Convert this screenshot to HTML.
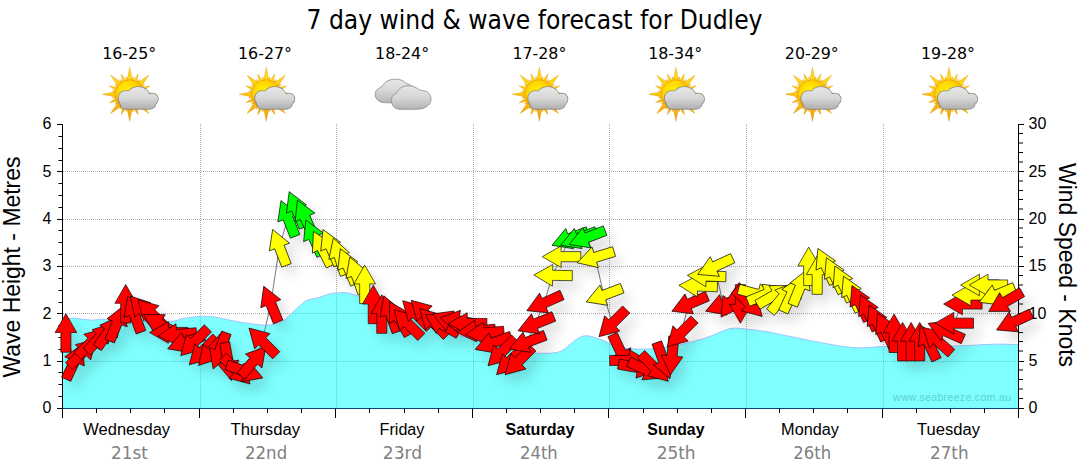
<!DOCTYPE html><html><head><meta charset="utf-8"><style>html,body{margin:0;padding:0;background:#fff;width:1080px;height:475px;overflow:hidden}svg{display:block}</style></head><body>
<svg width="1080" height="475" viewBox="0 0 1080 475">
<defs>
<filter id="sh" x="-50%" y="-50%" width="200%" height="200%"><feGaussianBlur stdDeviation="6"/></filter>
<radialGradient id="sun" cx="0.4" cy="0.38" r="0.68"><stop offset="0" stop-color="#fff200"/><stop offset="0.55" stop-color="#ffd200"/><stop offset="0.85" stop-color="#f9b400"/><stop offset="1" stop-color="#ec9400"/></radialGradient>
<linearGradient id="ray" gradientUnits="userSpaceOnUse" x1="0" y1="-27" x2="0" y2="27"><stop offset="0" stop-color="#ffe41a"/><stop offset="0.5" stop-color="#fcc80a"/><stop offset="1" stop-color="#f0a010"/></linearGradient>
<linearGradient id="cld" x1="0" y1="0" x2="0" y2="1"><stop offset="0" stop-color="#e6e6e6"/><stop offset="0.5" stop-color="#d6d6d6"/><stop offset="1" stop-color="#b4b4b4"/></linearGradient>
<linearGradient id="cld1" gradientUnits="userSpaceOnUse" x1="0" y1="-7.5" x2="0" y2="14.5"><stop offset="0" stop-color="#e8e8e8"/><stop offset="0.5" stop-color="#d8d8d8"/><stop offset="1" stop-color="#b0b0b0"/></linearGradient>
</defs>
<text x="534.5" y="29" text-anchor="middle" font-family="DejaVu Sans, Verdana, sans-serif" font-stretch="condensed" font-size="26" textLength="456" lengthAdjust="spacingAndGlyphs" fill="#000">7 day wind &amp; wave forecast for Dudley</text>
<text x="129.2" y="58.7" text-anchor="middle" font-family="DejaVu Sans, Verdana, sans-serif" font-stretch="condensed" font-size="15" textLength="54" lengthAdjust="spacingAndGlyphs">16-25°</text>
<text x="265" y="58.7" text-anchor="middle" font-family="DejaVu Sans, Verdana, sans-serif" font-stretch="condensed" font-size="15" textLength="54" lengthAdjust="spacingAndGlyphs">16-27°</text>
<text x="402.1" y="58.7" text-anchor="middle" font-family="DejaVu Sans, Verdana, sans-serif" font-stretch="condensed" font-size="15" textLength="54" lengthAdjust="spacingAndGlyphs">18-24°</text>
<text x="539.4" y="58.7" text-anchor="middle" font-family="DejaVu Sans, Verdana, sans-serif" font-stretch="condensed" font-size="15" textLength="54" lengthAdjust="spacingAndGlyphs">17-28°</text>
<text x="675.2" y="58.7" text-anchor="middle" font-family="DejaVu Sans, Verdana, sans-serif" font-stretch="condensed" font-size="15" textLength="54" lengthAdjust="spacingAndGlyphs">18-34°</text>
<text x="811.8" y="58.7" text-anchor="middle" font-family="DejaVu Sans, Verdana, sans-serif" font-stretch="condensed" font-size="15" textLength="54" lengthAdjust="spacingAndGlyphs">20-29°</text>
<text x="948" y="58.7" text-anchor="middle" font-family="DejaVu Sans, Verdana, sans-serif" font-stretch="condensed" font-size="15" textLength="54" lengthAdjust="spacingAndGlyphs">19-28°</text>
<g transform="translate(129.7,94.3)"><path d="M0.00,-27.00L2.90,-12.50L-2.90,-12.50Z" fill="url(#ray)" stroke="#e39200" stroke-width="0.5" stroke-opacity="0.8"/><path d="M3.47,-17.46L3.91,-11.97L0.97,-12.55Z" fill="url(#ray)" stroke="#e39200" stroke-width="0.5" stroke-opacity="0.8"/><path d="M8.42,-20.33L6.72,-10.74L2.84,-12.35Z" fill="url(#ray)" stroke="#e39200" stroke-width="0.5" stroke-opacity="0.8"/><path d="M9.89,-14.80L8.19,-9.56L5.70,-11.23Z" fill="url(#ray)" stroke="#e39200" stroke-width="0.5" stroke-opacity="0.8"/><path d="M19.09,-19.09L10.89,-6.79L6.79,-10.89Z" fill="url(#ray)" stroke="#e39200" stroke-width="0.5" stroke-opacity="0.8"/><path d="M14.80,-9.89L11.23,-5.70L9.56,-8.19Z" fill="url(#ray)" stroke="#e39200" stroke-width="0.5" stroke-opacity="0.8"/><path d="M20.33,-8.42L12.35,-2.84L10.74,-6.72Z" fill="url(#ray)" stroke="#e39200" stroke-width="0.5" stroke-opacity="0.8"/><path d="M17.46,-3.47L12.55,-0.97L11.97,-3.91Z" fill="url(#ray)" stroke="#e39200" stroke-width="0.5" stroke-opacity="0.8"/><path d="M27.00,0.00L12.50,2.90L12.50,-2.90Z" fill="url(#ray)" stroke="#e39200" stroke-width="0.5" stroke-opacity="0.8"/><path d="M17.46,3.47L11.97,3.91L12.55,0.97Z" fill="url(#ray)" stroke="#e39200" stroke-width="0.5" stroke-opacity="0.8"/><path d="M20.33,8.42L10.74,6.72L12.35,2.84Z" fill="url(#ray)" stroke="#e39200" stroke-width="0.5" stroke-opacity="0.8"/><path d="M14.80,9.89L9.56,8.19L11.23,5.70Z" fill="url(#ray)" stroke="#e39200" stroke-width="0.5" stroke-opacity="0.8"/><path d="M19.09,19.09L6.79,10.89L10.89,6.79Z" fill="url(#ray)" stroke="#e39200" stroke-width="0.5" stroke-opacity="0.8"/><path d="M9.89,14.80L5.70,11.23L8.19,9.56Z" fill="url(#ray)" stroke="#e39200" stroke-width="0.5" stroke-opacity="0.8"/><path d="M8.42,20.33L2.84,12.35L6.72,10.74Z" fill="url(#ray)" stroke="#e39200" stroke-width="0.5" stroke-opacity="0.8"/><path d="M3.47,17.46L0.97,12.55L3.91,11.97Z" fill="url(#ray)" stroke="#e39200" stroke-width="0.5" stroke-opacity="0.8"/><path d="M0.00,27.00L-2.90,12.50L2.90,12.50Z" fill="url(#ray)" stroke="#e39200" stroke-width="0.5" stroke-opacity="0.8"/><path d="M-3.47,17.46L-3.91,11.97L-0.97,12.55Z" fill="url(#ray)" stroke="#e39200" stroke-width="0.5" stroke-opacity="0.8"/><path d="M-8.42,20.33L-6.72,10.74L-2.84,12.35Z" fill="url(#ray)" stroke="#e39200" stroke-width="0.5" stroke-opacity="0.8"/><path d="M-9.89,14.80L-8.19,9.56L-5.70,11.23Z" fill="url(#ray)" stroke="#e39200" stroke-width="0.5" stroke-opacity="0.8"/><path d="M-19.09,19.09L-10.89,6.79L-6.79,10.89Z" fill="url(#ray)" stroke="#e39200" stroke-width="0.5" stroke-opacity="0.8"/><path d="M-14.80,9.89L-11.23,5.70L-9.56,8.19Z" fill="url(#ray)" stroke="#e39200" stroke-width="0.5" stroke-opacity="0.8"/><path d="M-20.33,8.42L-12.35,2.84L-10.74,6.72Z" fill="url(#ray)" stroke="#e39200" stroke-width="0.5" stroke-opacity="0.8"/><path d="M-17.46,3.47L-12.55,0.97L-11.97,3.91Z" fill="url(#ray)" stroke="#e39200" stroke-width="0.5" stroke-opacity="0.8"/><path d="M-27.00,0.00L-12.50,-2.90L-12.50,2.90Z" fill="url(#ray)" stroke="#e39200" stroke-width="0.5" stroke-opacity="0.8"/><path d="M-17.46,-3.47L-11.97,-3.91L-12.55,-0.97Z" fill="url(#ray)" stroke="#e39200" stroke-width="0.5" stroke-opacity="0.8"/><path d="M-20.33,-8.42L-10.74,-6.72L-12.35,-2.84Z" fill="url(#ray)" stroke="#e39200" stroke-width="0.5" stroke-opacity="0.8"/><path d="M-14.80,-9.89L-9.56,-8.19L-11.23,-5.70Z" fill="url(#ray)" stroke="#e39200" stroke-width="0.5" stroke-opacity="0.8"/><path d="M-19.09,-19.09L-6.79,-10.89L-10.89,-6.79Z" fill="url(#ray)" stroke="#e39200" stroke-width="0.5" stroke-opacity="0.8"/><path d="M-9.89,-14.80L-5.70,-11.23L-8.19,-9.56Z" fill="url(#ray)" stroke="#e39200" stroke-width="0.5" stroke-opacity="0.8"/><path d="M-8.42,-20.33L-2.84,-12.35L-6.72,-10.74Z" fill="url(#ray)" stroke="#e39200" stroke-width="0.5" stroke-opacity="0.8"/><path d="M-3.47,-17.46L-0.97,-12.55L-3.91,-11.97Z" fill="url(#ray)" stroke="#e39200" stroke-width="0.5" stroke-opacity="0.8"/><circle cx="0" cy="0" r="14.5" fill="url(#sun)" stroke="#e08a00" stroke-width="0.6" stroke-opacity="0.8"/><g transform="translate(-1.3,0.9)" fill="#c08a20" opacity="0.5"><circle cx="-4" cy="3.8" r="7.2"/><ellipse cx="8.5" cy="3.2" rx="11.6" ry="10.5"/><circle cx="22.4" cy="4.9" r="5.8"/><rect x="-9.2" y="3" width="35" height="11.5" rx="5.5"/></g><g fill="#8a8a8a" stroke="#8a8a8a" stroke-width="1.5"><circle cx="-4" cy="3.8" r="7.2"/><ellipse cx="8.5" cy="3.2" rx="11.6" ry="10.5"/><circle cx="22.4" cy="4.9" r="5.8"/><rect x="-9.2" y="3" width="35" height="11.5" rx="5.5"/></g><g fill="url(#cld1)"><circle cx="-4" cy="3.8" r="7.2"/><ellipse cx="8.5" cy="3.2" rx="11.6" ry="10.5"/><circle cx="22.4" cy="4.9" r="5.8"/><rect x="-9.2" y="3" width="35" height="11.5" rx="5.5"/></g></g>
<g transform="translate(266.25,94.3)"><path d="M0.00,-27.00L2.90,-12.50L-2.90,-12.50Z" fill="url(#ray)" stroke="#e39200" stroke-width="0.5" stroke-opacity="0.8"/><path d="M3.47,-17.46L3.91,-11.97L0.97,-12.55Z" fill="url(#ray)" stroke="#e39200" stroke-width="0.5" stroke-opacity="0.8"/><path d="M8.42,-20.33L6.72,-10.74L2.84,-12.35Z" fill="url(#ray)" stroke="#e39200" stroke-width="0.5" stroke-opacity="0.8"/><path d="M9.89,-14.80L8.19,-9.56L5.70,-11.23Z" fill="url(#ray)" stroke="#e39200" stroke-width="0.5" stroke-opacity="0.8"/><path d="M19.09,-19.09L10.89,-6.79L6.79,-10.89Z" fill="url(#ray)" stroke="#e39200" stroke-width="0.5" stroke-opacity="0.8"/><path d="M14.80,-9.89L11.23,-5.70L9.56,-8.19Z" fill="url(#ray)" stroke="#e39200" stroke-width="0.5" stroke-opacity="0.8"/><path d="M20.33,-8.42L12.35,-2.84L10.74,-6.72Z" fill="url(#ray)" stroke="#e39200" stroke-width="0.5" stroke-opacity="0.8"/><path d="M17.46,-3.47L12.55,-0.97L11.97,-3.91Z" fill="url(#ray)" stroke="#e39200" stroke-width="0.5" stroke-opacity="0.8"/><path d="M27.00,0.00L12.50,2.90L12.50,-2.90Z" fill="url(#ray)" stroke="#e39200" stroke-width="0.5" stroke-opacity="0.8"/><path d="M17.46,3.47L11.97,3.91L12.55,0.97Z" fill="url(#ray)" stroke="#e39200" stroke-width="0.5" stroke-opacity="0.8"/><path d="M20.33,8.42L10.74,6.72L12.35,2.84Z" fill="url(#ray)" stroke="#e39200" stroke-width="0.5" stroke-opacity="0.8"/><path d="M14.80,9.89L9.56,8.19L11.23,5.70Z" fill="url(#ray)" stroke="#e39200" stroke-width="0.5" stroke-opacity="0.8"/><path d="M19.09,19.09L6.79,10.89L10.89,6.79Z" fill="url(#ray)" stroke="#e39200" stroke-width="0.5" stroke-opacity="0.8"/><path d="M9.89,14.80L5.70,11.23L8.19,9.56Z" fill="url(#ray)" stroke="#e39200" stroke-width="0.5" stroke-opacity="0.8"/><path d="M8.42,20.33L2.84,12.35L6.72,10.74Z" fill="url(#ray)" stroke="#e39200" stroke-width="0.5" stroke-opacity="0.8"/><path d="M3.47,17.46L0.97,12.55L3.91,11.97Z" fill="url(#ray)" stroke="#e39200" stroke-width="0.5" stroke-opacity="0.8"/><path d="M0.00,27.00L-2.90,12.50L2.90,12.50Z" fill="url(#ray)" stroke="#e39200" stroke-width="0.5" stroke-opacity="0.8"/><path d="M-3.47,17.46L-3.91,11.97L-0.97,12.55Z" fill="url(#ray)" stroke="#e39200" stroke-width="0.5" stroke-opacity="0.8"/><path d="M-8.42,20.33L-6.72,10.74L-2.84,12.35Z" fill="url(#ray)" stroke="#e39200" stroke-width="0.5" stroke-opacity="0.8"/><path d="M-9.89,14.80L-8.19,9.56L-5.70,11.23Z" fill="url(#ray)" stroke="#e39200" stroke-width="0.5" stroke-opacity="0.8"/><path d="M-19.09,19.09L-10.89,6.79L-6.79,10.89Z" fill="url(#ray)" stroke="#e39200" stroke-width="0.5" stroke-opacity="0.8"/><path d="M-14.80,9.89L-11.23,5.70L-9.56,8.19Z" fill="url(#ray)" stroke="#e39200" stroke-width="0.5" stroke-opacity="0.8"/><path d="M-20.33,8.42L-12.35,2.84L-10.74,6.72Z" fill="url(#ray)" stroke="#e39200" stroke-width="0.5" stroke-opacity="0.8"/><path d="M-17.46,3.47L-12.55,0.97L-11.97,3.91Z" fill="url(#ray)" stroke="#e39200" stroke-width="0.5" stroke-opacity="0.8"/><path d="M-27.00,0.00L-12.50,-2.90L-12.50,2.90Z" fill="url(#ray)" stroke="#e39200" stroke-width="0.5" stroke-opacity="0.8"/><path d="M-17.46,-3.47L-11.97,-3.91L-12.55,-0.97Z" fill="url(#ray)" stroke="#e39200" stroke-width="0.5" stroke-opacity="0.8"/><path d="M-20.33,-8.42L-10.74,-6.72L-12.35,-2.84Z" fill="url(#ray)" stroke="#e39200" stroke-width="0.5" stroke-opacity="0.8"/><path d="M-14.80,-9.89L-9.56,-8.19L-11.23,-5.70Z" fill="url(#ray)" stroke="#e39200" stroke-width="0.5" stroke-opacity="0.8"/><path d="M-19.09,-19.09L-6.79,-10.89L-10.89,-6.79Z" fill="url(#ray)" stroke="#e39200" stroke-width="0.5" stroke-opacity="0.8"/><path d="M-9.89,-14.80L-5.70,-11.23L-8.19,-9.56Z" fill="url(#ray)" stroke="#e39200" stroke-width="0.5" stroke-opacity="0.8"/><path d="M-8.42,-20.33L-2.84,-12.35L-6.72,-10.74Z" fill="url(#ray)" stroke="#e39200" stroke-width="0.5" stroke-opacity="0.8"/><path d="M-3.47,-17.46L-0.97,-12.55L-3.91,-11.97Z" fill="url(#ray)" stroke="#e39200" stroke-width="0.5" stroke-opacity="0.8"/><circle cx="0" cy="0" r="14.5" fill="url(#sun)" stroke="#e08a00" stroke-width="0.6" stroke-opacity="0.8"/><g transform="translate(-1.3,0.9)" fill="#c08a20" opacity="0.5"><circle cx="-4" cy="3.8" r="7.2"/><ellipse cx="8.5" cy="3.2" rx="11.6" ry="10.5"/><circle cx="22.4" cy="4.9" r="5.8"/><rect x="-9.2" y="3" width="35" height="11.5" rx="5.5"/></g><g fill="#8a8a8a" stroke="#8a8a8a" stroke-width="1.5"><circle cx="-4" cy="3.8" r="7.2"/><ellipse cx="8.5" cy="3.2" rx="11.6" ry="10.5"/><circle cx="22.4" cy="4.9" r="5.8"/><rect x="-9.2" y="3" width="35" height="11.5" rx="5.5"/></g><g fill="url(#cld1)"><circle cx="-4" cy="3.8" r="7.2"/><ellipse cx="8.5" cy="3.2" rx="11.6" ry="10.5"/><circle cx="22.4" cy="4.9" r="5.8"/><rect x="-9.2" y="3" width="35" height="11.5" rx="5.5"/></g></g>
<path d="M383,102.5 C381.00,102.12 379.27,101.58 378,100.5 C376.73,99.42 375.73,97.58 375.4,96 C375.07,94.42 375.32,92.37 376,91 C376.68,89.63 378.50,88.57 379.5,87.8 C380.50,87.03 381.08,87.28 382,86.4 C382.92,85.52 383.67,83.58 385,82.5 C386.33,81.42 388.08,80.45 390,79.9 C391.92,79.35 394.42,79.10 396.5,79.2 C398.58,79.30 400.83,79.78 402.5,80.5 C404.17,81.22 405.33,82.83 406.5,83.5 C407.67,84.17 408.42,83.75 409.5,84.5 C410.58,85.25 412.42,86.25 413,88 C413.58,89.75 413.67,92.83 413,95 C412.33,97.17 411.17,99.73 409,101 C406.83,102.27 403.17,102.30 400,102.6 C396.83,102.90 392.83,102.82 390,102.8 C387.17,102.78 385.00,102.88 383,102.5 Z" fill="url(#cld)" stroke="#8a8a8a" stroke-width="0.8"/>
<path d="M398,109 C395.42,108.53 394.60,107.83 393.5,106.5 C392.40,105.17 391.57,102.75 391.4,101 C391.23,99.25 391.65,97.30 392.5,96 C393.35,94.70 395.50,94.20 396.5,93.2 C397.50,92.20 397.42,91.10 398.5,90 C399.58,88.90 401.33,87.30 403,86.6 C404.67,85.90 406.67,85.78 408.5,85.8 C410.33,85.82 412.33,86.13 414,86.7 C415.67,87.27 417.33,88.60 418.5,89.2 C419.67,89.80 419.67,89.90 421,90.3 C422.33,90.70 425.00,90.82 426.5,91.6 C428.00,92.38 429.25,93.68 430,95 C430.75,96.32 431.08,98.00 431,99.5 C430.92,101.00 430.50,102.67 429.5,104 C428.50,105.33 426.58,106.67 425,107.5 C423.42,108.33 422.67,108.70 420,109 C417.33,109.30 412.67,109.30 409,109.3 C405.33,109.30 400.58,109.47 398,109 Z" fill="url(#cld)" stroke="#8a8a8a" stroke-width="0.8"/>
<g transform="translate(539.35,94.3)"><path d="M0.00,-27.00L2.90,-12.50L-2.90,-12.50Z" fill="url(#ray)" stroke="#e39200" stroke-width="0.5" stroke-opacity="0.8"/><path d="M3.47,-17.46L3.91,-11.97L0.97,-12.55Z" fill="url(#ray)" stroke="#e39200" stroke-width="0.5" stroke-opacity="0.8"/><path d="M8.42,-20.33L6.72,-10.74L2.84,-12.35Z" fill="url(#ray)" stroke="#e39200" stroke-width="0.5" stroke-opacity="0.8"/><path d="M9.89,-14.80L8.19,-9.56L5.70,-11.23Z" fill="url(#ray)" stroke="#e39200" stroke-width="0.5" stroke-opacity="0.8"/><path d="M19.09,-19.09L10.89,-6.79L6.79,-10.89Z" fill="url(#ray)" stroke="#e39200" stroke-width="0.5" stroke-opacity="0.8"/><path d="M14.80,-9.89L11.23,-5.70L9.56,-8.19Z" fill="url(#ray)" stroke="#e39200" stroke-width="0.5" stroke-opacity="0.8"/><path d="M20.33,-8.42L12.35,-2.84L10.74,-6.72Z" fill="url(#ray)" stroke="#e39200" stroke-width="0.5" stroke-opacity="0.8"/><path d="M17.46,-3.47L12.55,-0.97L11.97,-3.91Z" fill="url(#ray)" stroke="#e39200" stroke-width="0.5" stroke-opacity="0.8"/><path d="M27.00,0.00L12.50,2.90L12.50,-2.90Z" fill="url(#ray)" stroke="#e39200" stroke-width="0.5" stroke-opacity="0.8"/><path d="M17.46,3.47L11.97,3.91L12.55,0.97Z" fill="url(#ray)" stroke="#e39200" stroke-width="0.5" stroke-opacity="0.8"/><path d="M20.33,8.42L10.74,6.72L12.35,2.84Z" fill="url(#ray)" stroke="#e39200" stroke-width="0.5" stroke-opacity="0.8"/><path d="M14.80,9.89L9.56,8.19L11.23,5.70Z" fill="url(#ray)" stroke="#e39200" stroke-width="0.5" stroke-opacity="0.8"/><path d="M19.09,19.09L6.79,10.89L10.89,6.79Z" fill="url(#ray)" stroke="#e39200" stroke-width="0.5" stroke-opacity="0.8"/><path d="M9.89,14.80L5.70,11.23L8.19,9.56Z" fill="url(#ray)" stroke="#e39200" stroke-width="0.5" stroke-opacity="0.8"/><path d="M8.42,20.33L2.84,12.35L6.72,10.74Z" fill="url(#ray)" stroke="#e39200" stroke-width="0.5" stroke-opacity="0.8"/><path d="M3.47,17.46L0.97,12.55L3.91,11.97Z" fill="url(#ray)" stroke="#e39200" stroke-width="0.5" stroke-opacity="0.8"/><path d="M0.00,27.00L-2.90,12.50L2.90,12.50Z" fill="url(#ray)" stroke="#e39200" stroke-width="0.5" stroke-opacity="0.8"/><path d="M-3.47,17.46L-3.91,11.97L-0.97,12.55Z" fill="url(#ray)" stroke="#e39200" stroke-width="0.5" stroke-opacity="0.8"/><path d="M-8.42,20.33L-6.72,10.74L-2.84,12.35Z" fill="url(#ray)" stroke="#e39200" stroke-width="0.5" stroke-opacity="0.8"/><path d="M-9.89,14.80L-8.19,9.56L-5.70,11.23Z" fill="url(#ray)" stroke="#e39200" stroke-width="0.5" stroke-opacity="0.8"/><path d="M-19.09,19.09L-10.89,6.79L-6.79,10.89Z" fill="url(#ray)" stroke="#e39200" stroke-width="0.5" stroke-opacity="0.8"/><path d="M-14.80,9.89L-11.23,5.70L-9.56,8.19Z" fill="url(#ray)" stroke="#e39200" stroke-width="0.5" stroke-opacity="0.8"/><path d="M-20.33,8.42L-12.35,2.84L-10.74,6.72Z" fill="url(#ray)" stroke="#e39200" stroke-width="0.5" stroke-opacity="0.8"/><path d="M-17.46,3.47L-12.55,0.97L-11.97,3.91Z" fill="url(#ray)" stroke="#e39200" stroke-width="0.5" stroke-opacity="0.8"/><path d="M-27.00,0.00L-12.50,-2.90L-12.50,2.90Z" fill="url(#ray)" stroke="#e39200" stroke-width="0.5" stroke-opacity="0.8"/><path d="M-17.46,-3.47L-11.97,-3.91L-12.55,-0.97Z" fill="url(#ray)" stroke="#e39200" stroke-width="0.5" stroke-opacity="0.8"/><path d="M-20.33,-8.42L-10.74,-6.72L-12.35,-2.84Z" fill="url(#ray)" stroke="#e39200" stroke-width="0.5" stroke-opacity="0.8"/><path d="M-14.80,-9.89L-9.56,-8.19L-11.23,-5.70Z" fill="url(#ray)" stroke="#e39200" stroke-width="0.5" stroke-opacity="0.8"/><path d="M-19.09,-19.09L-6.79,-10.89L-10.89,-6.79Z" fill="url(#ray)" stroke="#e39200" stroke-width="0.5" stroke-opacity="0.8"/><path d="M-9.89,-14.80L-5.70,-11.23L-8.19,-9.56Z" fill="url(#ray)" stroke="#e39200" stroke-width="0.5" stroke-opacity="0.8"/><path d="M-8.42,-20.33L-2.84,-12.35L-6.72,-10.74Z" fill="url(#ray)" stroke="#e39200" stroke-width="0.5" stroke-opacity="0.8"/><path d="M-3.47,-17.46L-0.97,-12.55L-3.91,-11.97Z" fill="url(#ray)" stroke="#e39200" stroke-width="0.5" stroke-opacity="0.8"/><circle cx="0" cy="0" r="14.5" fill="url(#sun)" stroke="#e08a00" stroke-width="0.6" stroke-opacity="0.8"/><g transform="translate(-1.3,0.9)" fill="#c08a20" opacity="0.5"><circle cx="-4" cy="3.8" r="7.2"/><ellipse cx="8.5" cy="3.2" rx="11.6" ry="10.5"/><circle cx="22.4" cy="4.9" r="5.8"/><rect x="-9.2" y="3" width="35" height="11.5" rx="5.5"/></g><g fill="#8a8a8a" stroke="#8a8a8a" stroke-width="1.5"><circle cx="-4" cy="3.8" r="7.2"/><ellipse cx="8.5" cy="3.2" rx="11.6" ry="10.5"/><circle cx="22.4" cy="4.9" r="5.8"/><rect x="-9.2" y="3" width="35" height="11.5" rx="5.5"/></g><g fill="url(#cld1)"><circle cx="-4" cy="3.8" r="7.2"/><ellipse cx="8.5" cy="3.2" rx="11.6" ry="10.5"/><circle cx="22.4" cy="4.9" r="5.8"/><rect x="-9.2" y="3" width="35" height="11.5" rx="5.5"/></g></g>
<g transform="translate(675.9000000000001,94.3)"><path d="M0.00,-27.00L2.90,-12.50L-2.90,-12.50Z" fill="url(#ray)" stroke="#e39200" stroke-width="0.5" stroke-opacity="0.8"/><path d="M3.47,-17.46L3.91,-11.97L0.97,-12.55Z" fill="url(#ray)" stroke="#e39200" stroke-width="0.5" stroke-opacity="0.8"/><path d="M8.42,-20.33L6.72,-10.74L2.84,-12.35Z" fill="url(#ray)" stroke="#e39200" stroke-width="0.5" stroke-opacity="0.8"/><path d="M9.89,-14.80L8.19,-9.56L5.70,-11.23Z" fill="url(#ray)" stroke="#e39200" stroke-width="0.5" stroke-opacity="0.8"/><path d="M19.09,-19.09L10.89,-6.79L6.79,-10.89Z" fill="url(#ray)" stroke="#e39200" stroke-width="0.5" stroke-opacity="0.8"/><path d="M14.80,-9.89L11.23,-5.70L9.56,-8.19Z" fill="url(#ray)" stroke="#e39200" stroke-width="0.5" stroke-opacity="0.8"/><path d="M20.33,-8.42L12.35,-2.84L10.74,-6.72Z" fill="url(#ray)" stroke="#e39200" stroke-width="0.5" stroke-opacity="0.8"/><path d="M17.46,-3.47L12.55,-0.97L11.97,-3.91Z" fill="url(#ray)" stroke="#e39200" stroke-width="0.5" stroke-opacity="0.8"/><path d="M27.00,0.00L12.50,2.90L12.50,-2.90Z" fill="url(#ray)" stroke="#e39200" stroke-width="0.5" stroke-opacity="0.8"/><path d="M17.46,3.47L11.97,3.91L12.55,0.97Z" fill="url(#ray)" stroke="#e39200" stroke-width="0.5" stroke-opacity="0.8"/><path d="M20.33,8.42L10.74,6.72L12.35,2.84Z" fill="url(#ray)" stroke="#e39200" stroke-width="0.5" stroke-opacity="0.8"/><path d="M14.80,9.89L9.56,8.19L11.23,5.70Z" fill="url(#ray)" stroke="#e39200" stroke-width="0.5" stroke-opacity="0.8"/><path d="M19.09,19.09L6.79,10.89L10.89,6.79Z" fill="url(#ray)" stroke="#e39200" stroke-width="0.5" stroke-opacity="0.8"/><path d="M9.89,14.80L5.70,11.23L8.19,9.56Z" fill="url(#ray)" stroke="#e39200" stroke-width="0.5" stroke-opacity="0.8"/><path d="M8.42,20.33L2.84,12.35L6.72,10.74Z" fill="url(#ray)" stroke="#e39200" stroke-width="0.5" stroke-opacity="0.8"/><path d="M3.47,17.46L0.97,12.55L3.91,11.97Z" fill="url(#ray)" stroke="#e39200" stroke-width="0.5" stroke-opacity="0.8"/><path d="M0.00,27.00L-2.90,12.50L2.90,12.50Z" fill="url(#ray)" stroke="#e39200" stroke-width="0.5" stroke-opacity="0.8"/><path d="M-3.47,17.46L-3.91,11.97L-0.97,12.55Z" fill="url(#ray)" stroke="#e39200" stroke-width="0.5" stroke-opacity="0.8"/><path d="M-8.42,20.33L-6.72,10.74L-2.84,12.35Z" fill="url(#ray)" stroke="#e39200" stroke-width="0.5" stroke-opacity="0.8"/><path d="M-9.89,14.80L-8.19,9.56L-5.70,11.23Z" fill="url(#ray)" stroke="#e39200" stroke-width="0.5" stroke-opacity="0.8"/><path d="M-19.09,19.09L-10.89,6.79L-6.79,10.89Z" fill="url(#ray)" stroke="#e39200" stroke-width="0.5" stroke-opacity="0.8"/><path d="M-14.80,9.89L-11.23,5.70L-9.56,8.19Z" fill="url(#ray)" stroke="#e39200" stroke-width="0.5" stroke-opacity="0.8"/><path d="M-20.33,8.42L-12.35,2.84L-10.74,6.72Z" fill="url(#ray)" stroke="#e39200" stroke-width="0.5" stroke-opacity="0.8"/><path d="M-17.46,3.47L-12.55,0.97L-11.97,3.91Z" fill="url(#ray)" stroke="#e39200" stroke-width="0.5" stroke-opacity="0.8"/><path d="M-27.00,0.00L-12.50,-2.90L-12.50,2.90Z" fill="url(#ray)" stroke="#e39200" stroke-width="0.5" stroke-opacity="0.8"/><path d="M-17.46,-3.47L-11.97,-3.91L-12.55,-0.97Z" fill="url(#ray)" stroke="#e39200" stroke-width="0.5" stroke-opacity="0.8"/><path d="M-20.33,-8.42L-10.74,-6.72L-12.35,-2.84Z" fill="url(#ray)" stroke="#e39200" stroke-width="0.5" stroke-opacity="0.8"/><path d="M-14.80,-9.89L-9.56,-8.19L-11.23,-5.70Z" fill="url(#ray)" stroke="#e39200" stroke-width="0.5" stroke-opacity="0.8"/><path d="M-19.09,-19.09L-6.79,-10.89L-10.89,-6.79Z" fill="url(#ray)" stroke="#e39200" stroke-width="0.5" stroke-opacity="0.8"/><path d="M-9.89,-14.80L-5.70,-11.23L-8.19,-9.56Z" fill="url(#ray)" stroke="#e39200" stroke-width="0.5" stroke-opacity="0.8"/><path d="M-8.42,-20.33L-2.84,-12.35L-6.72,-10.74Z" fill="url(#ray)" stroke="#e39200" stroke-width="0.5" stroke-opacity="0.8"/><path d="M-3.47,-17.46L-0.97,-12.55L-3.91,-11.97Z" fill="url(#ray)" stroke="#e39200" stroke-width="0.5" stroke-opacity="0.8"/><circle cx="0" cy="0" r="14.5" fill="url(#sun)" stroke="#e08a00" stroke-width="0.6" stroke-opacity="0.8"/><g transform="translate(-1.3,0.9)" fill="#c08a20" opacity="0.5"><circle cx="-4" cy="3.8" r="7.2"/><ellipse cx="8.5" cy="3.2" rx="11.6" ry="10.5"/><circle cx="22.4" cy="4.9" r="5.8"/><rect x="-9.2" y="3" width="35" height="11.5" rx="5.5"/></g><g fill="#8a8a8a" stroke="#8a8a8a" stroke-width="1.5"><circle cx="-4" cy="3.8" r="7.2"/><ellipse cx="8.5" cy="3.2" rx="11.6" ry="10.5"/><circle cx="22.4" cy="4.9" r="5.8"/><rect x="-9.2" y="3" width="35" height="11.5" rx="5.5"/></g><g fill="url(#cld1)"><circle cx="-4" cy="3.8" r="7.2"/><ellipse cx="8.5" cy="3.2" rx="11.6" ry="10.5"/><circle cx="22.4" cy="4.9" r="5.8"/><rect x="-9.2" y="3" width="35" height="11.5" rx="5.5"/></g></g>
<g transform="translate(812.45,94.3)"><path d="M0.00,-27.00L2.90,-12.50L-2.90,-12.50Z" fill="url(#ray)" stroke="#e39200" stroke-width="0.5" stroke-opacity="0.8"/><path d="M3.47,-17.46L3.91,-11.97L0.97,-12.55Z" fill="url(#ray)" stroke="#e39200" stroke-width="0.5" stroke-opacity="0.8"/><path d="M8.42,-20.33L6.72,-10.74L2.84,-12.35Z" fill="url(#ray)" stroke="#e39200" stroke-width="0.5" stroke-opacity="0.8"/><path d="M9.89,-14.80L8.19,-9.56L5.70,-11.23Z" fill="url(#ray)" stroke="#e39200" stroke-width="0.5" stroke-opacity="0.8"/><path d="M19.09,-19.09L10.89,-6.79L6.79,-10.89Z" fill="url(#ray)" stroke="#e39200" stroke-width="0.5" stroke-opacity="0.8"/><path d="M14.80,-9.89L11.23,-5.70L9.56,-8.19Z" fill="url(#ray)" stroke="#e39200" stroke-width="0.5" stroke-opacity="0.8"/><path d="M20.33,-8.42L12.35,-2.84L10.74,-6.72Z" fill="url(#ray)" stroke="#e39200" stroke-width="0.5" stroke-opacity="0.8"/><path d="M17.46,-3.47L12.55,-0.97L11.97,-3.91Z" fill="url(#ray)" stroke="#e39200" stroke-width="0.5" stroke-opacity="0.8"/><path d="M27.00,0.00L12.50,2.90L12.50,-2.90Z" fill="url(#ray)" stroke="#e39200" stroke-width="0.5" stroke-opacity="0.8"/><path d="M17.46,3.47L11.97,3.91L12.55,0.97Z" fill="url(#ray)" stroke="#e39200" stroke-width="0.5" stroke-opacity="0.8"/><path d="M20.33,8.42L10.74,6.72L12.35,2.84Z" fill="url(#ray)" stroke="#e39200" stroke-width="0.5" stroke-opacity="0.8"/><path d="M14.80,9.89L9.56,8.19L11.23,5.70Z" fill="url(#ray)" stroke="#e39200" stroke-width="0.5" stroke-opacity="0.8"/><path d="M19.09,19.09L6.79,10.89L10.89,6.79Z" fill="url(#ray)" stroke="#e39200" stroke-width="0.5" stroke-opacity="0.8"/><path d="M9.89,14.80L5.70,11.23L8.19,9.56Z" fill="url(#ray)" stroke="#e39200" stroke-width="0.5" stroke-opacity="0.8"/><path d="M8.42,20.33L2.84,12.35L6.72,10.74Z" fill="url(#ray)" stroke="#e39200" stroke-width="0.5" stroke-opacity="0.8"/><path d="M3.47,17.46L0.97,12.55L3.91,11.97Z" fill="url(#ray)" stroke="#e39200" stroke-width="0.5" stroke-opacity="0.8"/><path d="M0.00,27.00L-2.90,12.50L2.90,12.50Z" fill="url(#ray)" stroke="#e39200" stroke-width="0.5" stroke-opacity="0.8"/><path d="M-3.47,17.46L-3.91,11.97L-0.97,12.55Z" fill="url(#ray)" stroke="#e39200" stroke-width="0.5" stroke-opacity="0.8"/><path d="M-8.42,20.33L-6.72,10.74L-2.84,12.35Z" fill="url(#ray)" stroke="#e39200" stroke-width="0.5" stroke-opacity="0.8"/><path d="M-9.89,14.80L-8.19,9.56L-5.70,11.23Z" fill="url(#ray)" stroke="#e39200" stroke-width="0.5" stroke-opacity="0.8"/><path d="M-19.09,19.09L-10.89,6.79L-6.79,10.89Z" fill="url(#ray)" stroke="#e39200" stroke-width="0.5" stroke-opacity="0.8"/><path d="M-14.80,9.89L-11.23,5.70L-9.56,8.19Z" fill="url(#ray)" stroke="#e39200" stroke-width="0.5" stroke-opacity="0.8"/><path d="M-20.33,8.42L-12.35,2.84L-10.74,6.72Z" fill="url(#ray)" stroke="#e39200" stroke-width="0.5" stroke-opacity="0.8"/><path d="M-17.46,3.47L-12.55,0.97L-11.97,3.91Z" fill="url(#ray)" stroke="#e39200" stroke-width="0.5" stroke-opacity="0.8"/><path d="M-27.00,0.00L-12.50,-2.90L-12.50,2.90Z" fill="url(#ray)" stroke="#e39200" stroke-width="0.5" stroke-opacity="0.8"/><path d="M-17.46,-3.47L-11.97,-3.91L-12.55,-0.97Z" fill="url(#ray)" stroke="#e39200" stroke-width="0.5" stroke-opacity="0.8"/><path d="M-20.33,-8.42L-10.74,-6.72L-12.35,-2.84Z" fill="url(#ray)" stroke="#e39200" stroke-width="0.5" stroke-opacity="0.8"/><path d="M-14.80,-9.89L-9.56,-8.19L-11.23,-5.70Z" fill="url(#ray)" stroke="#e39200" stroke-width="0.5" stroke-opacity="0.8"/><path d="M-19.09,-19.09L-6.79,-10.89L-10.89,-6.79Z" fill="url(#ray)" stroke="#e39200" stroke-width="0.5" stroke-opacity="0.8"/><path d="M-9.89,-14.80L-5.70,-11.23L-8.19,-9.56Z" fill="url(#ray)" stroke="#e39200" stroke-width="0.5" stroke-opacity="0.8"/><path d="M-8.42,-20.33L-2.84,-12.35L-6.72,-10.74Z" fill="url(#ray)" stroke="#e39200" stroke-width="0.5" stroke-opacity="0.8"/><path d="M-3.47,-17.46L-0.97,-12.55L-3.91,-11.97Z" fill="url(#ray)" stroke="#e39200" stroke-width="0.5" stroke-opacity="0.8"/><circle cx="0" cy="0" r="14.5" fill="url(#sun)" stroke="#e08a00" stroke-width="0.6" stroke-opacity="0.8"/><g transform="translate(-1.3,0.9)" fill="#c08a20" opacity="0.5"><circle cx="-4" cy="3.8" r="7.2"/><ellipse cx="8.5" cy="3.2" rx="11.6" ry="10.5"/><circle cx="22.4" cy="4.9" r="5.8"/><rect x="-9.2" y="3" width="35" height="11.5" rx="5.5"/></g><g fill="#8a8a8a" stroke="#8a8a8a" stroke-width="1.5"><circle cx="-4" cy="3.8" r="7.2"/><ellipse cx="8.5" cy="3.2" rx="11.6" ry="10.5"/><circle cx="22.4" cy="4.9" r="5.8"/><rect x="-9.2" y="3" width="35" height="11.5" rx="5.5"/></g><g fill="url(#cld1)"><circle cx="-4" cy="3.8" r="7.2"/><ellipse cx="8.5" cy="3.2" rx="11.6" ry="10.5"/><circle cx="22.4" cy="4.9" r="5.8"/><rect x="-9.2" y="3" width="35" height="11.5" rx="5.5"/></g></g>
<g transform="translate(949.0,94.3)"><path d="M0.00,-27.00L2.90,-12.50L-2.90,-12.50Z" fill="url(#ray)" stroke="#e39200" stroke-width="0.5" stroke-opacity="0.8"/><path d="M3.47,-17.46L3.91,-11.97L0.97,-12.55Z" fill="url(#ray)" stroke="#e39200" stroke-width="0.5" stroke-opacity="0.8"/><path d="M8.42,-20.33L6.72,-10.74L2.84,-12.35Z" fill="url(#ray)" stroke="#e39200" stroke-width="0.5" stroke-opacity="0.8"/><path d="M9.89,-14.80L8.19,-9.56L5.70,-11.23Z" fill="url(#ray)" stroke="#e39200" stroke-width="0.5" stroke-opacity="0.8"/><path d="M19.09,-19.09L10.89,-6.79L6.79,-10.89Z" fill="url(#ray)" stroke="#e39200" stroke-width="0.5" stroke-opacity="0.8"/><path d="M14.80,-9.89L11.23,-5.70L9.56,-8.19Z" fill="url(#ray)" stroke="#e39200" stroke-width="0.5" stroke-opacity="0.8"/><path d="M20.33,-8.42L12.35,-2.84L10.74,-6.72Z" fill="url(#ray)" stroke="#e39200" stroke-width="0.5" stroke-opacity="0.8"/><path d="M17.46,-3.47L12.55,-0.97L11.97,-3.91Z" fill="url(#ray)" stroke="#e39200" stroke-width="0.5" stroke-opacity="0.8"/><path d="M27.00,0.00L12.50,2.90L12.50,-2.90Z" fill="url(#ray)" stroke="#e39200" stroke-width="0.5" stroke-opacity="0.8"/><path d="M17.46,3.47L11.97,3.91L12.55,0.97Z" fill="url(#ray)" stroke="#e39200" stroke-width="0.5" stroke-opacity="0.8"/><path d="M20.33,8.42L10.74,6.72L12.35,2.84Z" fill="url(#ray)" stroke="#e39200" stroke-width="0.5" stroke-opacity="0.8"/><path d="M14.80,9.89L9.56,8.19L11.23,5.70Z" fill="url(#ray)" stroke="#e39200" stroke-width="0.5" stroke-opacity="0.8"/><path d="M19.09,19.09L6.79,10.89L10.89,6.79Z" fill="url(#ray)" stroke="#e39200" stroke-width="0.5" stroke-opacity="0.8"/><path d="M9.89,14.80L5.70,11.23L8.19,9.56Z" fill="url(#ray)" stroke="#e39200" stroke-width="0.5" stroke-opacity="0.8"/><path d="M8.42,20.33L2.84,12.35L6.72,10.74Z" fill="url(#ray)" stroke="#e39200" stroke-width="0.5" stroke-opacity="0.8"/><path d="M3.47,17.46L0.97,12.55L3.91,11.97Z" fill="url(#ray)" stroke="#e39200" stroke-width="0.5" stroke-opacity="0.8"/><path d="M0.00,27.00L-2.90,12.50L2.90,12.50Z" fill="url(#ray)" stroke="#e39200" stroke-width="0.5" stroke-opacity="0.8"/><path d="M-3.47,17.46L-3.91,11.97L-0.97,12.55Z" fill="url(#ray)" stroke="#e39200" stroke-width="0.5" stroke-opacity="0.8"/><path d="M-8.42,20.33L-6.72,10.74L-2.84,12.35Z" fill="url(#ray)" stroke="#e39200" stroke-width="0.5" stroke-opacity="0.8"/><path d="M-9.89,14.80L-8.19,9.56L-5.70,11.23Z" fill="url(#ray)" stroke="#e39200" stroke-width="0.5" stroke-opacity="0.8"/><path d="M-19.09,19.09L-10.89,6.79L-6.79,10.89Z" fill="url(#ray)" stroke="#e39200" stroke-width="0.5" stroke-opacity="0.8"/><path d="M-14.80,9.89L-11.23,5.70L-9.56,8.19Z" fill="url(#ray)" stroke="#e39200" stroke-width="0.5" stroke-opacity="0.8"/><path d="M-20.33,8.42L-12.35,2.84L-10.74,6.72Z" fill="url(#ray)" stroke="#e39200" stroke-width="0.5" stroke-opacity="0.8"/><path d="M-17.46,3.47L-12.55,0.97L-11.97,3.91Z" fill="url(#ray)" stroke="#e39200" stroke-width="0.5" stroke-opacity="0.8"/><path d="M-27.00,0.00L-12.50,-2.90L-12.50,2.90Z" fill="url(#ray)" stroke="#e39200" stroke-width="0.5" stroke-opacity="0.8"/><path d="M-17.46,-3.47L-11.97,-3.91L-12.55,-0.97Z" fill="url(#ray)" stroke="#e39200" stroke-width="0.5" stroke-opacity="0.8"/><path d="M-20.33,-8.42L-10.74,-6.72L-12.35,-2.84Z" fill="url(#ray)" stroke="#e39200" stroke-width="0.5" stroke-opacity="0.8"/><path d="M-14.80,-9.89L-9.56,-8.19L-11.23,-5.70Z" fill="url(#ray)" stroke="#e39200" stroke-width="0.5" stroke-opacity="0.8"/><path d="M-19.09,-19.09L-6.79,-10.89L-10.89,-6.79Z" fill="url(#ray)" stroke="#e39200" stroke-width="0.5" stroke-opacity="0.8"/><path d="M-9.89,-14.80L-5.70,-11.23L-8.19,-9.56Z" fill="url(#ray)" stroke="#e39200" stroke-width="0.5" stroke-opacity="0.8"/><path d="M-8.42,-20.33L-2.84,-12.35L-6.72,-10.74Z" fill="url(#ray)" stroke="#e39200" stroke-width="0.5" stroke-opacity="0.8"/><path d="M-3.47,-17.46L-0.97,-12.55L-3.91,-11.97Z" fill="url(#ray)" stroke="#e39200" stroke-width="0.5" stroke-opacity="0.8"/><circle cx="0" cy="0" r="14.5" fill="url(#sun)" stroke="#e08a00" stroke-width="0.6" stroke-opacity="0.8"/><g transform="translate(-1.3,0.9)" fill="#c08a20" opacity="0.5"><circle cx="-4" cy="3.8" r="7.2"/><ellipse cx="8.5" cy="3.2" rx="11.6" ry="10.5"/><circle cx="22.4" cy="4.9" r="5.8"/><rect x="-9.2" y="3" width="35" height="11.5" rx="5.5"/></g><g fill="#8a8a8a" stroke="#8a8a8a" stroke-width="1.5"><circle cx="-4" cy="3.8" r="7.2"/><ellipse cx="8.5" cy="3.2" rx="11.6" ry="10.5"/><circle cx="22.4" cy="4.9" r="5.8"/><rect x="-9.2" y="3" width="35" height="11.5" rx="5.5"/></g><g fill="url(#cld1)"><circle cx="-4" cy="3.8" r="7.2"/><ellipse cx="8.5" cy="3.2" rx="11.6" ry="10.5"/><circle cx="22.4" cy="4.9" r="5.8"/><rect x="-9.2" y="3" width="35" height="11.5" rx="5.5"/></g></g>
<line x1="63" y1="171.5" x2="1018" y2="171.5" stroke="rgba(0,0,0,0.33)" stroke-width="1" stroke-dasharray="1,1"/>
<line x1="63" y1="219.5" x2="1018" y2="219.5" stroke="rgba(0,0,0,0.33)" stroke-width="1" stroke-dasharray="1,1"/>
<line x1="63" y1="266.5" x2="1018" y2="266.5" stroke="rgba(0,0,0,0.33)" stroke-width="1" stroke-dasharray="1,1"/>
<line x1="63" y1="313.5" x2="1018" y2="313.5" stroke="rgba(0,0,0,0.33)" stroke-width="1" stroke-dasharray="1,1"/>
<line x1="63" y1="361.5" x2="1018" y2="361.5" stroke="rgba(0,0,0,0.33)" stroke-width="1" stroke-dasharray="1,1"/>
<line x1="200.5" y1="124" x2="200.5" y2="408" stroke="rgba(0,0,0,0.33)" stroke-width="1" stroke-dasharray="1,1"/>
<line x1="336.5" y1="124" x2="336.5" y2="408" stroke="rgba(0,0,0,0.33)" stroke-width="1" stroke-dasharray="1,1"/>
<line x1="473.5" y1="124" x2="473.5" y2="408" stroke="rgba(0,0,0,0.33)" stroke-width="1" stroke-dasharray="1,1"/>
<line x1="609.5" y1="124" x2="609.5" y2="408" stroke="rgba(0,0,0,0.33)" stroke-width="1" stroke-dasharray="1,1"/>
<line x1="746.5" y1="124" x2="746.5" y2="408" stroke="rgba(0,0,0,0.33)" stroke-width="1" stroke-dasharray="1,1"/>
<line x1="883.5" y1="124" x2="883.5" y2="408" stroke="rgba(0,0,0,0.33)" stroke-width="1" stroke-dasharray="1,1"/>
<path d="M62.5,318.8 C63.2,318.8 64.9,318.7 67,318.6 C69.1,318.5 72.3,318.1 75,318.2 C77.7,318.3 80.2,319.0 83,319.3 C85.8,319.6 89.2,320.2 92,320.2 C94.8,320.2 97.7,319.4 100,319.3 C102.3,319.2 104.0,319.2 106,319.5 C108.0,319.8 106.3,320.5 112,320.8 C117.7,321.1 130.2,321.4 140,321.5 C149.8,321.6 164.2,321.8 171,321.4 C177.8,321.0 177.3,319.6 181,318.9 C184.7,318.2 189.8,317.6 193,317.2 C196.2,316.8 197.7,316.3 200,316.2 C202.3,316.1 204.5,316.4 207,316.5 C209.5,316.6 209.4,316.2 215,317.1 C220.6,318.1 232.3,320.9 240.5,322.2 C248.7,323.5 257.8,325.0 264,325.2 C270.2,325.4 274.2,324.3 277.5,323.5 C280.8,322.7 281.4,322.4 284,320.5 C286.6,318.6 289.3,315.2 293,312 C296.7,308.8 301.8,303.4 306,301 C310.2,298.6 313.8,299.0 318,297.8 C322.2,296.6 326.5,294.5 331,293.6 C335.5,292.8 341.7,292.6 345,292.7 C348.3,292.8 348.5,293.3 351,293.9 C353.5,294.5 355.2,295.0 360,296.5 C364.8,298.0 373.3,300.6 380,303 C386.7,305.4 393.3,308.2 400,311 C406.7,313.8 413.3,317.0 420,320 C426.7,323.0 433.3,326.4 440,329 C446.7,331.6 453.3,333.8 460,335.8 C466.7,337.8 473.3,339.3 480,341 C486.7,342.7 493.3,344.4 500,346 C506.7,347.6 514.2,349.3 520,350.5 C525.8,351.7 529.5,352.6 535,353 C540.5,353.4 548.3,353.5 553,353 C557.7,352.5 559.0,352.3 563,350 C567.0,347.7 573.0,341.4 577,339 C581.0,336.6 582.8,335.6 587,335.8 C591.2,336.0 598.2,338.6 602,340 C605.8,341.4 607.0,342.8 610,344 C613.0,345.2 616.2,346.7 620,347.5 C623.8,348.3 628.0,348.8 633,349 C638.0,349.2 644.3,349.3 650,349 C655.7,348.7 661.5,347.8 667,347 C672.5,346.2 676.3,345.6 683,344 C689.7,342.4 699.2,340.1 707,337.5 C714.8,334.9 723.3,330.1 730,328.7 C736.7,327.3 740.8,328.7 747,329.2 C753.2,329.7 761.5,330.8 767,331.7 C772.5,332.6 775.5,333.6 780,334.5 C784.5,335.4 785.8,335.6 794,337.2 C802.2,338.8 818.5,342.4 829,344.2 C839.5,346.0 848.0,347.4 857,347.8 C866.0,348.2 872.5,346.9 883,346.6 C893.5,346.4 907.3,346.4 920,346.3 C932.7,346.2 946.7,346.2 959,345.9 C971.3,345.5 984.1,344.4 994,344.2 C1003.9,344.0 1014.4,344.6 1018.5,344.7 L1018.5,408 L62.5,408 Z" fill="#00ffff" fill-opacity="0.5"/>
<path d="M62.5,318.8 C63.2,318.8 64.9,318.7 67,318.6 C69.1,318.5 72.3,318.1 75,318.2 C77.7,318.3 80.2,319.0 83,319.3 C85.8,319.6 89.2,320.2 92,320.2 C94.8,320.2 97.7,319.4 100,319.3 C102.3,319.2 104.0,319.2 106,319.5 C108.0,319.8 106.3,320.5 112,320.8 C117.7,321.1 130.2,321.4 140,321.5 C149.8,321.6 164.2,321.8 171,321.4 C177.8,321.0 177.3,319.6 181,318.9 C184.7,318.2 189.8,317.6 193,317.2 C196.2,316.8 197.7,316.3 200,316.2 C202.3,316.1 204.5,316.4 207,316.5 C209.5,316.6 209.4,316.2 215,317.1 C220.6,318.1 232.3,320.9 240.5,322.2 C248.7,323.5 257.8,325.0 264,325.2 C270.2,325.4 274.2,324.3 277.5,323.5 C280.8,322.7 281.4,322.4 284,320.5 C286.6,318.6 289.3,315.2 293,312 C296.7,308.8 301.8,303.4 306,301 C310.2,298.6 313.8,299.0 318,297.8 C322.2,296.6 326.5,294.5 331,293.6 C335.5,292.8 341.7,292.6 345,292.7 C348.3,292.8 348.5,293.3 351,293.9 C353.5,294.5 355.2,295.0 360,296.5 C364.8,298.0 373.3,300.6 380,303 C386.7,305.4 393.3,308.2 400,311 C406.7,313.8 413.3,317.0 420,320 C426.7,323.0 433.3,326.4 440,329 C446.7,331.6 453.3,333.8 460,335.8 C466.7,337.8 473.3,339.3 480,341 C486.7,342.7 493.3,344.4 500,346 C506.7,347.6 514.2,349.3 520,350.5 C525.8,351.7 529.5,352.6 535,353 C540.5,353.4 548.3,353.5 553,353 C557.7,352.5 559.0,352.3 563,350 C567.0,347.7 573.0,341.4 577,339 C581.0,336.6 582.8,335.6 587,335.8 C591.2,336.0 598.2,338.6 602,340 C605.8,341.4 607.0,342.8 610,344 C613.0,345.2 616.2,346.7 620,347.5 C623.8,348.3 628.0,348.8 633,349 C638.0,349.2 644.3,349.3 650,349 C655.7,348.7 661.5,347.8 667,347 C672.5,346.2 676.3,345.6 683,344 C689.7,342.4 699.2,340.1 707,337.5 C714.8,334.9 723.3,330.1 730,328.7 C736.7,327.3 740.8,328.7 747,329.2 C753.2,329.7 761.5,330.8 767,331.7 C772.5,332.6 775.5,333.6 780,334.5 C784.5,335.4 785.8,335.6 794,337.2 C802.2,338.8 818.5,342.4 829,344.2 C839.5,346.0 848.0,347.4 857,347.8 C866.0,348.2 872.5,346.9 883,346.6 C893.5,346.4 907.3,346.4 920,346.3 C932.7,346.2 946.7,346.2 959,345.9 C971.3,345.5 984.1,344.4 994,344.2 C1003.9,344.0 1014.4,344.6 1018.5,344.7" fill="none" stroke="#9ec4ff" stroke-width="1.0"/>
<line x1="62.5" y1="124" x2="62.5" y2="418" stroke="#000" stroke-width="1"/>
<line x1="1018.5" y1="124" x2="1018.5" y2="408.5" stroke="#000" stroke-width="1"/>
<line x1="62" y1="408.5" x2="1019" y2="408.5" stroke="#0b4a78" stroke-width="1"/>
<line x1="57" y1="124.5" x2="62.5" y2="124.5" stroke="#000" stroke-width="1"/>
<line x1="58.5" y1="136.5" x2="62.5" y2="136.5" stroke="#000" stroke-width="1"/>
<line x1="58.5" y1="148.5" x2="62.5" y2="148.5" stroke="#000" stroke-width="1"/>
<line x1="58.5" y1="160.5" x2="62.5" y2="160.5" stroke="#000" stroke-width="1"/>
<line x1="57" y1="171.5" x2="62.5" y2="171.5" stroke="#000" stroke-width="1"/>
<line x1="58.5" y1="183.5" x2="62.5" y2="183.5" stroke="#000" stroke-width="1"/>
<line x1="58.5" y1="195.5" x2="62.5" y2="195.5" stroke="#000" stroke-width="1"/>
<line x1="58.5" y1="207.5" x2="62.5" y2="207.5" stroke="#000" stroke-width="1"/>
<line x1="57" y1="219.5" x2="62.5" y2="219.5" stroke="#000" stroke-width="1"/>
<line x1="58.5" y1="230.5" x2="62.5" y2="230.5" stroke="#000" stroke-width="1"/>
<line x1="58.5" y1="242.5" x2="62.5" y2="242.5" stroke="#000" stroke-width="1"/>
<line x1="58.5" y1="254.5" x2="62.5" y2="254.5" stroke="#000" stroke-width="1"/>
<line x1="57" y1="266.5" x2="62.5" y2="266.5" stroke="#000" stroke-width="1"/>
<line x1="58.5" y1="278.5" x2="62.5" y2="278.5" stroke="#000" stroke-width="1"/>
<line x1="58.5" y1="290.5" x2="62.5" y2="290.5" stroke="#000" stroke-width="1"/>
<line x1="58.5" y1="302.5" x2="62.5" y2="302.5" stroke="#000" stroke-width="1"/>
<line x1="57" y1="313.5" x2="62.5" y2="313.5" stroke="#000" stroke-width="1"/>
<line x1="58.5" y1="325.5" x2="62.5" y2="325.5" stroke="#000" stroke-width="1"/>
<line x1="58.5" y1="337.5" x2="62.5" y2="337.5" stroke="#000" stroke-width="1"/>
<line x1="58.5" y1="349.5" x2="62.5" y2="349.5" stroke="#000" stroke-width="1"/>
<line x1="57" y1="361.5" x2="62.5" y2="361.5" stroke="#000" stroke-width="1"/>
<line x1="58.5" y1="372.5" x2="62.5" y2="372.5" stroke="#000" stroke-width="1"/>
<line x1="58.5" y1="384.5" x2="62.5" y2="384.5" stroke="#000" stroke-width="1"/>
<line x1="58.5" y1="396.5" x2="62.5" y2="396.5" stroke="#000" stroke-width="1"/>
<line x1="57" y1="408.5" x2="62.5" y2="408.5" stroke="#000" stroke-width="1"/>
<line x1="1018.5" y1="124.5" x2="1024" y2="124.5" stroke="#000" stroke-width="1"/>
<line x1="1018.5" y1="133.5" x2="1023" y2="133.5" stroke="#000" stroke-width="1"/>
<line x1="1018.5" y1="143.0" x2="1023" y2="143.0" stroke="#000" stroke-width="1"/>
<line x1="1018.5" y1="152.5" x2="1023" y2="152.5" stroke="#000" stroke-width="1"/>
<line x1="1018.5" y1="162.0" x2="1023" y2="162.0" stroke="#000" stroke-width="1"/>
<line x1="1018.5" y1="171.5" x2="1024" y2="171.5" stroke="#000" stroke-width="1"/>
<line x1="1018.5" y1="181.0" x2="1023" y2="181.0" stroke="#000" stroke-width="1"/>
<line x1="1018.5" y1="190.5" x2="1023" y2="190.5" stroke="#000" stroke-width="1"/>
<line x1="1018.5" y1="199.5" x2="1023" y2="199.5" stroke="#000" stroke-width="1"/>
<line x1="1018.5" y1="209.0" x2="1023" y2="209.0" stroke="#000" stroke-width="1"/>
<line x1="1018.5" y1="219.5" x2="1024" y2="219.5" stroke="#000" stroke-width="1"/>
<line x1="1018.5" y1="228.0" x2="1023" y2="228.0" stroke="#000" stroke-width="1"/>
<line x1="1018.5" y1="237.5" x2="1023" y2="237.5" stroke="#000" stroke-width="1"/>
<line x1="1018.5" y1="247.0" x2="1023" y2="247.0" stroke="#000" stroke-width="1"/>
<line x1="1018.5" y1="256.5" x2="1023" y2="256.5" stroke="#000" stroke-width="1"/>
<line x1="1018.5" y1="266.5" x2="1024" y2="266.5" stroke="#000" stroke-width="1"/>
<line x1="1018.5" y1="275.5" x2="1023" y2="275.5" stroke="#000" stroke-width="1"/>
<line x1="1018.5" y1="285.0" x2="1023" y2="285.0" stroke="#000" stroke-width="1"/>
<line x1="1018.5" y1="294.5" x2="1023" y2="294.5" stroke="#000" stroke-width="1"/>
<line x1="1018.5" y1="304.0" x2="1023" y2="304.0" stroke="#000" stroke-width="1"/>
<line x1="1018.5" y1="313.5" x2="1024" y2="313.5" stroke="#000" stroke-width="1"/>
<line x1="1018.5" y1="323.0" x2="1023" y2="323.0" stroke="#000" stroke-width="1"/>
<line x1="1018.5" y1="332.5" x2="1023" y2="332.5" stroke="#000" stroke-width="1"/>
<line x1="1018.5" y1="341.5" x2="1023" y2="341.5" stroke="#000" stroke-width="1"/>
<line x1="1018.5" y1="351.0" x2="1023" y2="351.0" stroke="#000" stroke-width="1"/>
<line x1="1018.5" y1="361.5" x2="1024" y2="361.5" stroke="#000" stroke-width="1"/>
<line x1="1018.5" y1="370.0" x2="1023" y2="370.0" stroke="#000" stroke-width="1"/>
<line x1="1018.5" y1="379.5" x2="1023" y2="379.5" stroke="#000" stroke-width="1"/>
<line x1="1018.5" y1="389.0" x2="1023" y2="389.0" stroke="#000" stroke-width="1"/>
<line x1="1018.5" y1="398.5" x2="1023" y2="398.5" stroke="#000" stroke-width="1"/>
<line x1="1018.5" y1="408.5" x2="1024" y2="408.5" stroke="#000" stroke-width="1"/>
<line x1="62.5" y1="408.5" x2="62.5" y2="418" stroke="#000" stroke-width="1"/>
<line x1="96.5" y1="408.5" x2="96.5" y2="413" stroke="#000" stroke-width="1"/>
<line x1="130.5" y1="408.5" x2="130.5" y2="413" stroke="#000" stroke-width="1"/>
<line x1="164.5" y1="408.5" x2="164.5" y2="413" stroke="#000" stroke-width="1"/>
<line x1="199.5" y1="408.5" x2="199.5" y2="418" stroke="#000" stroke-width="1"/>
<line x1="233.5" y1="408.5" x2="233.5" y2="413" stroke="#000" stroke-width="1"/>
<line x1="267.5" y1="408.5" x2="267.5" y2="413" stroke="#000" stroke-width="1"/>
<line x1="301.5" y1="408.5" x2="301.5" y2="413" stroke="#000" stroke-width="1"/>
<line x1="335.5" y1="408.5" x2="335.5" y2="418" stroke="#000" stroke-width="1"/>
<line x1="369.5" y1="408.5" x2="369.5" y2="413" stroke="#000" stroke-width="1"/>
<line x1="404.5" y1="408.5" x2="404.5" y2="413" stroke="#000" stroke-width="1"/>
<line x1="438.5" y1="408.5" x2="438.5" y2="413" stroke="#000" stroke-width="1"/>
<line x1="472.5" y1="408.5" x2="472.5" y2="418" stroke="#000" stroke-width="1"/>
<line x1="506.5" y1="408.5" x2="506.5" y2="413" stroke="#000" stroke-width="1"/>
<line x1="540.5" y1="408.5" x2="540.5" y2="413" stroke="#000" stroke-width="1"/>
<line x1="574.5" y1="408.5" x2="574.5" y2="413" stroke="#000" stroke-width="1"/>
<line x1="608.5" y1="408.5" x2="608.5" y2="418" stroke="#000" stroke-width="1"/>
<line x1="643.5" y1="408.5" x2="643.5" y2="413" stroke="#000" stroke-width="1"/>
<line x1="677.5" y1="408.5" x2="677.5" y2="413" stroke="#000" stroke-width="1"/>
<line x1="711.5" y1="408.5" x2="711.5" y2="413" stroke="#000" stroke-width="1"/>
<line x1="745.5" y1="408.5" x2="745.5" y2="418" stroke="#000" stroke-width="1"/>
<line x1="779.5" y1="408.5" x2="779.5" y2="413" stroke="#000" stroke-width="1"/>
<line x1="813.5" y1="408.5" x2="813.5" y2="413" stroke="#000" stroke-width="1"/>
<line x1="847.5" y1="408.5" x2="847.5" y2="413" stroke="#000" stroke-width="1"/>
<line x1="882.5" y1="408.5" x2="882.5" y2="418" stroke="#000" stroke-width="1"/>
<line x1="916.5" y1="408.5" x2="916.5" y2="413" stroke="#000" stroke-width="1"/>
<line x1="950.5" y1="408.5" x2="950.5" y2="413" stroke="#000" stroke-width="1"/>
<line x1="984.5" y1="408.5" x2="984.5" y2="413" stroke="#000" stroke-width="1"/>
<line x1="1018.5" y1="408.5" x2="1018.5" y2="418" stroke="#000" stroke-width="1"/>
<text x="51.5" y="413.2" text-anchor="end" font-family="Liberation Sans, Arial, sans-serif" font-size="16">0</text>
<text x="51.5" y="365.9" text-anchor="end" font-family="Liberation Sans, Arial, sans-serif" font-size="16">1</text>
<text x="51.5" y="318.5" text-anchor="end" font-family="Liberation Sans, Arial, sans-serif" font-size="16">2</text>
<text x="51.5" y="271.2" text-anchor="end" font-family="Liberation Sans, Arial, sans-serif" font-size="16">3</text>
<text x="51.5" y="223.9" text-anchor="end" font-family="Liberation Sans, Arial, sans-serif" font-size="16">4</text>
<text x="51.5" y="176.6" text-anchor="end" font-family="Liberation Sans, Arial, sans-serif" font-size="16">5</text>
<text x="51.5" y="129.2" text-anchor="end" font-family="Liberation Sans, Arial, sans-serif" font-size="16">6</text>
<text x="1028.5" y="413.2" font-family="Liberation Sans, Arial, sans-serif" font-size="16">0</text>
<text x="1028.5" y="365.9" font-family="Liberation Sans, Arial, sans-serif" font-size="16">5</text>
<text x="1028.5" y="318.5" font-family="Liberation Sans, Arial, sans-serif" font-size="16">10</text>
<text x="1028.5" y="271.2" font-family="Liberation Sans, Arial, sans-serif" font-size="16">15</text>
<text x="1028.5" y="223.9" font-family="Liberation Sans, Arial, sans-serif" font-size="16">20</text>
<text x="1028.5" y="176.5" font-family="Liberation Sans, Arial, sans-serif" font-size="16">25</text>
<text x="1028.5" y="129.2" font-family="Liberation Sans, Arial, sans-serif" font-size="16">30</text>
<text transform="translate(20.3,267) rotate(-90)" text-anchor="middle" font-family="Liberation Sans, Arial, sans-serif" font-size="23" textLength="221" lengthAdjust="spacingAndGlyphs">Wave Height - Metres</text>
<text transform="translate(1059,265) rotate(90)" text-anchor="middle" font-family="Liberation Sans, Arial, sans-serif" font-size="23" textLength="204" lengthAdjust="spacingAndGlyphs">Wind Speed - Knots</text>
<text x="893" y="400.8" font-family="Liberation Sans, Arial, sans-serif" font-size="10.5" textLength="118" lengthAdjust="spacing" fill="#5ecfd6">www.seabreeze.com.au</text>
<text x="126.7" y="435" text-anchor="middle" font-family="Liberation Sans, Arial, sans-serif" font-size="16" textLength="86.7" lengthAdjust="spacingAndGlyphs">Wednesday</text>
<text x="129.4" y="458.9" text-anchor="middle" font-family="DejaVu Sans, Verdana, sans-serif" font-stretch="condensed" font-size="17" fill="#808080" textLength="36.8" lengthAdjust="spacingAndGlyphs">21st</text>
<text x="265.3" y="435" text-anchor="middle" font-family="Liberation Sans, Arial, sans-serif" font-size="16" textLength="69.4" lengthAdjust="spacingAndGlyphs">Thursday</text>
<text x="266.1" y="458.9" text-anchor="middle" font-family="DejaVu Sans, Verdana, sans-serif" font-stretch="condensed" font-size="17" fill="#808080" textLength="42.2" lengthAdjust="spacingAndGlyphs">22nd</text>
<text x="402" y="435" text-anchor="middle" font-family="Liberation Sans, Arial, sans-serif" font-size="16" textLength="44.8" lengthAdjust="spacingAndGlyphs">Friday</text>
<text x="402.5" y="458.9" text-anchor="middle" font-family="DejaVu Sans, Verdana, sans-serif" font-stretch="condensed" font-size="17" fill="#808080" textLength="39.3" lengthAdjust="spacingAndGlyphs">23rd</text>
<text x="540" y="435" text-anchor="middle" font-family="Liberation Sans, Arial, sans-serif" font-size="16" font-weight="bold" textLength="68.8" lengthAdjust="spacingAndGlyphs">Saturday</text>
<text x="538.9" y="458.9" text-anchor="middle" font-family="DejaVu Sans, Verdana, sans-serif" font-stretch="condensed" font-size="17" fill="#808080" textLength="37.8" lengthAdjust="spacingAndGlyphs">24th</text>
<text x="675.9" y="435" text-anchor="middle" font-family="Liberation Sans, Arial, sans-serif" font-size="16" font-weight="bold" textLength="57.1" lengthAdjust="spacingAndGlyphs">Sunday</text>
<text x="676.1" y="458.9" text-anchor="middle" font-family="DejaVu Sans, Verdana, sans-serif" font-stretch="condensed" font-size="17" fill="#808080" textLength="38.9" lengthAdjust="spacingAndGlyphs">25th</text>
<text x="810" y="435" text-anchor="middle" font-family="Liberation Sans, Arial, sans-serif" font-size="16" textLength="57.8" lengthAdjust="spacingAndGlyphs">Monday</text>
<text x="812.2" y="458.9" text-anchor="middle" font-family="DejaVu Sans, Verdana, sans-serif" font-stretch="condensed" font-size="17" fill="#808080" textLength="37.8" lengthAdjust="spacingAndGlyphs">26th</text>
<text x="948.5" y="435" text-anchor="middle" font-family="Liberation Sans, Arial, sans-serif" font-size="16" textLength="63" lengthAdjust="spacingAndGlyphs">Tuesday</text>
<text x="949.3" y="458.9" text-anchor="middle" font-family="DejaVu Sans, Verdana, sans-serif" font-stretch="condensed" font-size="17" fill="#808080" textLength="38.5" lengthAdjust="spacingAndGlyphs">27th</text>
<defs><path id="ar" d="M0,-18.8 L10.8,0 L5.05,0 L5.05,19.7 L-5.05,19.7 L-5.05,0 L-10.8,0 Z"/></defs>
<polyline points="65.9,332.5 74.5,361.4 83.0,352.3 91.5,341.8 100.1,337.0 108.6,331.5 117.1,322.8 125.7,303.3 134.2,313.7 142.8,310.0 151.3,313.3 159.8,324.0 168.4,332.5 176.9,334.5 185.4,342.4 194.0,342.3 202.5,351.5 211.1,351.5 219.6,351.3 228.1,362.0 236.7,370.7 245.2,371.5 253.7,361.0 262.3,341.3 270.8,303.7 279.4,247.0 287.9,218.0 296.4,209.0 305.0,217.4 313.5,237.3 322.0,248.2 330.6,246.7 339.1,256.0 347.7,266.0 356.2,274.7 364.7,283.9 373.3,304.0 381.8,313.6 390.3,313.5 398.9,318.0 407.4,323.0 416.0,314.0 424.5,313.6 433.0,322.0 441.6,324.0 450.1,321.0 458.6,321.0 467.2,323.5 475.7,331.0 484.3,333.0 492.8,343.0 501.3,352.5 509.9,361.4 518.4,361.4 526.9,342.3 535.5,323.8 544.0,303.0 552.6,275.3 561.1,256.7 569.6,238.6 578.2,238.5 586.7,237.7 595.2,257.3 603.8,295.2 612.3,323.4 620.9,352.4 629.4,360.5 637.9,367.5 646.5,370.0 655.0,368.0 663.5,361.0 672.1,356.0 680.6,333.4 689.2,303.9 697.7,286.0 706.2,276.0 714.8,266.5 723.3,304.8 731.8,301.7 740.4,304.4 748.9,303.2 757.5,294.3 766.0,294.2 774.5,295.0 783.1,297.0 791.6,294.0 800.1,287.0 808.7,265.9 817.2,274.6 825.8,265.5 834.3,274.7 842.8,283.1 851.4,293.2 859.9,302.5 868.4,312.0 877.0,322.0 885.5,330.0 894.1,332.8 902.6,341.2 911.1,341.2 919.7,341.2 928.2,342.0 936.7,340.0 945.3,331.0 953.8,323.2 962.4,304.0 970.9,295.0 979.4,285.0 988.0,285.0 996.5,295.0 1005.0,302.0 1013.6,322.0" fill="none" stroke="#7a7a7a" stroke-width="1"/>
<g filter="url(#sh)" opacity="0.13">
<use href="#ar" transform="translate(72.9,341.5) rotate(0.0)" fill="#000"/>
<use href="#ar" transform="translate(81.5,370.4) rotate(25.0)" fill="#000"/>
<use href="#ar" transform="translate(90.0,361.3) rotate(45.0)" fill="#000"/>
<use href="#ar" transform="translate(98.5,350.8) rotate(45.0)" fill="#000"/>
<use href="#ar" transform="translate(107.1,346.0) rotate(42.0)" fill="#000"/>
<use href="#ar" transform="translate(115.6,340.5) rotate(35.0)" fill="#000"/>
<use href="#ar" transform="translate(124.1,331.8) rotate(22.0)" fill="#000"/>
<use href="#ar" transform="translate(132.7,312.3) rotate(0.0)" fill="#000"/>
<use href="#ar" transform="translate(141.2,322.7) rotate(-20.0)" fill="#000"/>
<use href="#ar" transform="translate(149.8,319.0) rotate(-42.0)" fill="#000"/>
<use href="#ar" transform="translate(158.3,322.3) rotate(-45.0)" fill="#000"/>
<use href="#ar" transform="translate(166.8,333.0) rotate(-60.0)" fill="#000"/>
<use href="#ar" transform="translate(175.4,341.5) rotate(-90.0)" fill="#000"/>
<use href="#ar" transform="translate(183.9,343.5) rotate(-95.0)" fill="#000"/>
<use href="#ar" transform="translate(192.4,351.4) rotate(-110.0)" fill="#000"/>
<use href="#ar" transform="translate(201.0,351.3) rotate(-135.0)" fill="#000"/>
<use href="#ar" transform="translate(209.5,360.5) rotate(-135.0)" fill="#000"/>
<use href="#ar" transform="translate(218.1,360.5) rotate(-138.0)" fill="#000"/>
<use href="#ar" transform="translate(226.6,360.3) rotate(-160.0)" fill="#000"/>
<use href="#ar" transform="translate(235.1,371.0) rotate(170.0)" fill="#000"/>
<use href="#ar" transform="translate(243.7,379.7) rotate(135.0)" fill="#000"/>
<use href="#ar" transform="translate(252.2,380.5) rotate(110.0)" fill="#000"/>
<use href="#ar" transform="translate(260.7,370.0) rotate(40.0)" fill="#000"/>
<use href="#ar" transform="translate(269.3,350.3) rotate(-45.0)" fill="#000"/>
<use href="#ar" transform="translate(277.8,312.7) rotate(-22.0)" fill="#000"/>
<use href="#ar" transform="translate(286.4,256.0) rotate(-21.0)" fill="#000"/>
<use href="#ar" transform="translate(294.9,227.0) rotate(-21.5)" fill="#000"/>
<use href="#ar" transform="translate(303.4,218.0) rotate(-22.5)" fill="#000"/>
<use href="#ar" transform="translate(312.0,226.4) rotate(-24.0)" fill="#000"/>
<use href="#ar" transform="translate(320.5,246.3) rotate(-24.0)" fill="#000"/>
<use href="#ar" transform="translate(329.0,257.2) rotate(-27.0)" fill="#000"/>
<use href="#ar" transform="translate(337.6,255.7) rotate(-24.0)" fill="#000"/>
<use href="#ar" transform="translate(346.1,265.0) rotate(-18.0)" fill="#000"/>
<use href="#ar" transform="translate(354.7,275.0) rotate(-23.0)" fill="#000"/>
<use href="#ar" transform="translate(363.2,283.7) rotate(-20.0)" fill="#000"/>
<use href="#ar" transform="translate(371.7,292.9) rotate(0.0)" fill="#000"/>
<use href="#ar" transform="translate(380.3,313.0) rotate(0.0)" fill="#000"/>
<use href="#ar" transform="translate(388.8,322.6) rotate(0.0)" fill="#000"/>
<use href="#ar" transform="translate(397.3,322.5) rotate(-20.0)" fill="#000"/>
<use href="#ar" transform="translate(405.9,327.0) rotate(-30.0)" fill="#000"/>
<use href="#ar" transform="translate(414.4,332.0) rotate(-45.0)" fill="#000"/>
<use href="#ar" transform="translate(423.0,323.0) rotate(-45.0)" fill="#000"/>
<use href="#ar" transform="translate(431.5,322.6) rotate(-45.0)" fill="#000"/>
<use href="#ar" transform="translate(440.0,331.0) rotate(-45.0)" fill="#000"/>
<use href="#ar" transform="translate(448.6,333.0) rotate(-60.0)" fill="#000"/>
<use href="#ar" transform="translate(457.1,330.0) rotate(-68.0)" fill="#000"/>
<use href="#ar" transform="translate(465.6,330.0) rotate(-80.0)" fill="#000"/>
<use href="#ar" transform="translate(474.2,332.5) rotate(-90.0)" fill="#000"/>
<use href="#ar" transform="translate(482.7,340.0) rotate(-95.0)" fill="#000"/>
<use href="#ar" transform="translate(491.3,342.0) rotate(-95.0)" fill="#000"/>
<use href="#ar" transform="translate(499.8,352.0) rotate(-110.0)" fill="#000"/>
<use href="#ar" transform="translate(508.3,361.5) rotate(-135.0)" fill="#000"/>
<use href="#ar" transform="translate(516.9,370.4) rotate(-135.0)" fill="#000"/>
<use href="#ar" transform="translate(525.4,370.4) rotate(-135.0)" fill="#000"/>
<use href="#ar" transform="translate(533.9,351.3) rotate(-111.0)" fill="#000"/>
<use href="#ar" transform="translate(542.5,332.8) rotate(-112.0)" fill="#000"/>
<use href="#ar" transform="translate(551.0,312.0) rotate(-114.0)" fill="#000"/>
<use href="#ar" transform="translate(559.6,284.3) rotate(-89.0)" fill="#000"/>
<use href="#ar" transform="translate(568.1,265.7) rotate(-90.0)" fill="#000"/>
<use href="#ar" transform="translate(576.6,247.6) rotate(-111.0)" fill="#000"/>
<use href="#ar" transform="translate(585.2,247.5) rotate(-111.0)" fill="#000"/>
<use href="#ar" transform="translate(593.7,246.7) rotate(-111.0)" fill="#000"/>
<use href="#ar" transform="translate(602.2,266.3) rotate(-107.0)" fill="#000"/>
<use href="#ar" transform="translate(610.8,304.2) rotate(-111.0)" fill="#000"/>
<use href="#ar" transform="translate(619.3,332.4) rotate(-135.0)" fill="#000"/>
<use href="#ar" transform="translate(627.9,361.4) rotate(155.0)" fill="#000"/>
<use href="#ar" transform="translate(636.4,369.5) rotate(90.0)" fill="#000"/>
<use href="#ar" transform="translate(644.9,376.5) rotate(100.0)" fill="#000"/>
<use href="#ar" transform="translate(653.5,379.0) rotate(115.0)" fill="#000"/>
<use href="#ar" transform="translate(662.0,377.0) rotate(135.0)" fill="#000"/>
<use href="#ar" transform="translate(670.5,370.0) rotate(160.0)" fill="#000"/>
<use href="#ar" transform="translate(679.1,365.0) rotate(185.0)" fill="#000"/>
<use href="#ar" transform="translate(687.6,342.4) rotate(-135.0)" fill="#000"/>
<use href="#ar" transform="translate(696.2,312.9) rotate(-113.0)" fill="#000"/>
<use href="#ar" transform="translate(704.7,295.0) rotate(-88.0)" fill="#000"/>
<use href="#ar" transform="translate(713.2,285.0) rotate(-88.0)" fill="#000"/>
<use href="#ar" transform="translate(721.8,275.5) rotate(-115.0)" fill="#000"/>
<use href="#ar" transform="translate(730.3,313.8) rotate(-110.0)" fill="#000"/>
<use href="#ar" transform="translate(738.8,310.7) rotate(-145.0)" fill="#000"/>
<use href="#ar" transform="translate(747.4,313.4) rotate(180.0)" fill="#000"/>
<use href="#ar" transform="translate(755.9,312.2) rotate(135.0)" fill="#000"/>
<use href="#ar" transform="translate(764.5,303.3) rotate(105.0)" fill="#000"/>
<use href="#ar" transform="translate(773.0,303.2) rotate(68.0)" fill="#000"/>
<use href="#ar" transform="translate(781.5,304.0) rotate(60.0)" fill="#000"/>
<use href="#ar" transform="translate(790.1,306.0) rotate(40.0)" fill="#000"/>
<use href="#ar" transform="translate(798.6,303.0) rotate(25.0)" fill="#000"/>
<use href="#ar" transform="translate(807.1,296.0) rotate(22.0)" fill="#000"/>
<use href="#ar" transform="translate(815.7,274.9) rotate(0.0)" fill="#000"/>
<use href="#ar" transform="translate(824.2,283.6) rotate(0.0)" fill="#000"/>
<use href="#ar" transform="translate(832.8,274.5) rotate(-25.0)" fill="#000"/>
<use href="#ar" transform="translate(841.3,283.7) rotate(-25.0)" fill="#000"/>
<use href="#ar" transform="translate(849.8,292.1) rotate(-25.0)" fill="#000"/>
<use href="#ar" transform="translate(858.4,302.2) rotate(-25.0)" fill="#000"/>
<use href="#ar" transform="translate(866.9,311.5) rotate(-25.0)" fill="#000"/>
<use href="#ar" transform="translate(875.4,321.0) rotate(-25.0)" fill="#000"/>
<use href="#ar" transform="translate(884.0,331.0) rotate(-25.0)" fill="#000"/>
<use href="#ar" transform="translate(892.5,339.0) rotate(-25.0)" fill="#000"/>
<use href="#ar" transform="translate(901.1,341.8) rotate(0.0)" fill="#000"/>
<use href="#ar" transform="translate(909.6,350.2) rotate(0.0)" fill="#000"/>
<use href="#ar" transform="translate(918.1,350.2) rotate(0.0)" fill="#000"/>
<use href="#ar" transform="translate(926.7,350.2) rotate(0.0)" fill="#000"/>
<use href="#ar" transform="translate(935.2,351.0) rotate(-25.0)" fill="#000"/>
<use href="#ar" transform="translate(943.7,349.0) rotate(-48.0)" fill="#000"/>
<use href="#ar" transform="translate(952.3,340.0) rotate(-66.0)" fill="#000"/>
<use href="#ar" transform="translate(960.8,332.2) rotate(-90.0)" fill="#000"/>
<use href="#ar" transform="translate(969.4,313.0) rotate(-90.0)" fill="#000"/>
<use href="#ar" transform="translate(977.9,304.0) rotate(-90.0)" fill="#000"/>
<use href="#ar" transform="translate(986.4,294.0) rotate(-90.0)" fill="#000"/>
<use href="#ar" transform="translate(995.0,294.0) rotate(-90.0)" fill="#000"/>
<use href="#ar" transform="translate(1003.5,304.0) rotate(-113.0)" fill="#000"/>
<use href="#ar" transform="translate(1012.0,311.0) rotate(-120.0)" fill="#000"/>
<use href="#ar" transform="translate(1020.6,331.0) rotate(-115.0)" fill="#000"/>
</g>
<use href="#ar" transform="translate(65.9,332.5) rotate(0.0)" fill="#ff0000" stroke="#000" stroke-width="0.65" stroke-linejoin="miter"/>
<use href="#ar" transform="translate(74.5,361.4) rotate(25.0)" fill="#ff0000" stroke="#000" stroke-width="0.65" stroke-linejoin="miter"/>
<use href="#ar" transform="translate(83.0,352.3) rotate(45.0)" fill="#ff0000" stroke="#000" stroke-width="0.65" stroke-linejoin="miter"/>
<use href="#ar" transform="translate(91.5,341.8) rotate(45.0)" fill="#ff0000" stroke="#000" stroke-width="0.65" stroke-linejoin="miter"/>
<use href="#ar" transform="translate(100.1,337.0) rotate(42.0)" fill="#ff0000" stroke="#000" stroke-width="0.65" stroke-linejoin="miter"/>
<use href="#ar" transform="translate(108.6,331.5) rotate(35.0)" fill="#ff0000" stroke="#000" stroke-width="0.65" stroke-linejoin="miter"/>
<use href="#ar" transform="translate(117.1,322.8) rotate(22.0)" fill="#ff0000" stroke="#000" stroke-width="0.65" stroke-linejoin="miter"/>
<use href="#ar" transform="translate(125.7,303.3) rotate(0.0)" fill="#ff0000" stroke="#000" stroke-width="0.65" stroke-linejoin="miter"/>
<use href="#ar" transform="translate(134.2,313.7) rotate(-20.0)" fill="#ff0000" stroke="#000" stroke-width="0.65" stroke-linejoin="miter"/>
<use href="#ar" transform="translate(142.8,310.0) rotate(-42.0)" fill="#ff0000" stroke="#000" stroke-width="0.65" stroke-linejoin="miter"/>
<use href="#ar" transform="translate(151.3,313.3) rotate(-45.0)" fill="#ff0000" stroke="#000" stroke-width="0.65" stroke-linejoin="miter"/>
<use href="#ar" transform="translate(159.8,324.0) rotate(-60.0)" fill="#ff0000" stroke="#000" stroke-width="0.65" stroke-linejoin="miter"/>
<use href="#ar" transform="translate(168.4,332.5) rotate(-90.0)" fill="#ff0000" stroke="#000" stroke-width="0.65" stroke-linejoin="miter"/>
<use href="#ar" transform="translate(176.9,334.5) rotate(-95.0)" fill="#ff0000" stroke="#000" stroke-width="0.65" stroke-linejoin="miter"/>
<use href="#ar" transform="translate(185.4,342.4) rotate(-110.0)" fill="#ff0000" stroke="#000" stroke-width="0.65" stroke-linejoin="miter"/>
<use href="#ar" transform="translate(194.0,342.3) rotate(-135.0)" fill="#ff0000" stroke="#000" stroke-width="0.65" stroke-linejoin="miter"/>
<use href="#ar" transform="translate(202.5,351.5) rotate(-135.0)" fill="#ff0000" stroke="#000" stroke-width="0.65" stroke-linejoin="miter"/>
<use href="#ar" transform="translate(211.1,351.5) rotate(-138.0)" fill="#ff0000" stroke="#000" stroke-width="0.65" stroke-linejoin="miter"/>
<use href="#ar" transform="translate(219.6,351.3) rotate(-160.0)" fill="#ff0000" stroke="#000" stroke-width="0.65" stroke-linejoin="miter"/>
<use href="#ar" transform="translate(228.1,362.0) rotate(170.0)" fill="#ff0000" stroke="#000" stroke-width="0.65" stroke-linejoin="miter"/>
<use href="#ar" transform="translate(236.7,370.7) rotate(135.0)" fill="#ff0000" stroke="#000" stroke-width="0.65" stroke-linejoin="miter"/>
<use href="#ar" transform="translate(245.2,371.5) rotate(110.0)" fill="#ff0000" stroke="#000" stroke-width="0.65" stroke-linejoin="miter"/>
<use href="#ar" transform="translate(253.7,361.0) rotate(40.0)" fill="#ff0000" stroke="#000" stroke-width="0.65" stroke-linejoin="miter"/>
<use href="#ar" transform="translate(262.3,341.3) rotate(-45.0)" fill="#ff0000" stroke="#000" stroke-width="0.65" stroke-linejoin="miter"/>
<use href="#ar" transform="translate(270.8,303.7) rotate(-22.0)" fill="#ff0000" stroke="#000" stroke-width="0.65" stroke-linejoin="miter"/>
<use href="#ar" transform="translate(279.4,247.0) rotate(-21.0)" fill="#ffff00" stroke="#000" stroke-width="0.65" stroke-linejoin="miter"/>
<use href="#ar" transform="translate(287.9,218.0) rotate(-21.5)" fill="#00ff00" stroke="#000" stroke-width="0.65" stroke-linejoin="miter"/>
<use href="#ar" transform="translate(296.4,209.0) rotate(-22.5)" fill="#00ff00" stroke="#000" stroke-width="0.65" stroke-linejoin="miter"/>
<use href="#ar" transform="translate(305.0,217.4) rotate(-24.0)" fill="#00ff00" stroke="#000" stroke-width="0.65" stroke-linejoin="miter"/>
<use href="#ar" transform="translate(313.5,237.3) rotate(-24.0)" fill="#00ff00" stroke="#000" stroke-width="0.65" stroke-linejoin="miter"/>
<use href="#ar" transform="translate(322.0,248.2) rotate(-27.0)" fill="#ffff00" stroke="#000" stroke-width="0.65" stroke-linejoin="miter"/>
<use href="#ar" transform="translate(330.6,246.7) rotate(-24.0)" fill="#ffff00" stroke="#000" stroke-width="0.65" stroke-linejoin="miter"/>
<use href="#ar" transform="translate(339.1,256.0) rotate(-18.0)" fill="#ffff00" stroke="#000" stroke-width="0.65" stroke-linejoin="miter"/>
<use href="#ar" transform="translate(347.7,266.0) rotate(-23.0)" fill="#ffff00" stroke="#000" stroke-width="0.65" stroke-linejoin="miter"/>
<use href="#ar" transform="translate(356.2,274.7) rotate(-20.0)" fill="#ffff00" stroke="#000" stroke-width="0.65" stroke-linejoin="miter"/>
<use href="#ar" transform="translate(364.7,283.9) rotate(0.0)" fill="#ffff00" stroke="#000" stroke-width="0.65" stroke-linejoin="miter"/>
<use href="#ar" transform="translate(373.3,304.0) rotate(0.0)" fill="#ff0000" stroke="#000" stroke-width="0.65" stroke-linejoin="miter"/>
<use href="#ar" transform="translate(381.8,313.6) rotate(0.0)" fill="#ff0000" stroke="#000" stroke-width="0.65" stroke-linejoin="miter"/>
<use href="#ar" transform="translate(390.3,313.5) rotate(-20.0)" fill="#ff0000" stroke="#000" stroke-width="0.65" stroke-linejoin="miter"/>
<use href="#ar" transform="translate(398.9,318.0) rotate(-30.0)" fill="#ff0000" stroke="#000" stroke-width="0.65" stroke-linejoin="miter"/>
<use href="#ar" transform="translate(407.4,323.0) rotate(-45.0)" fill="#ff0000" stroke="#000" stroke-width="0.65" stroke-linejoin="miter"/>
<use href="#ar" transform="translate(416.0,314.0) rotate(-45.0)" fill="#ff0000" stroke="#000" stroke-width="0.65" stroke-linejoin="miter"/>
<use href="#ar" transform="translate(424.5,313.6) rotate(-45.0)" fill="#ff0000" stroke="#000" stroke-width="0.65" stroke-linejoin="miter"/>
<use href="#ar" transform="translate(433.0,322.0) rotate(-45.0)" fill="#ff0000" stroke="#000" stroke-width="0.65" stroke-linejoin="miter"/>
<use href="#ar" transform="translate(441.6,324.0) rotate(-60.0)" fill="#ff0000" stroke="#000" stroke-width="0.65" stroke-linejoin="miter"/>
<use href="#ar" transform="translate(450.1,321.0) rotate(-68.0)" fill="#ff0000" stroke="#000" stroke-width="0.65" stroke-linejoin="miter"/>
<use href="#ar" transform="translate(458.6,321.0) rotate(-80.0)" fill="#ff0000" stroke="#000" stroke-width="0.65" stroke-linejoin="miter"/>
<use href="#ar" transform="translate(467.2,323.5) rotate(-90.0)" fill="#ff0000" stroke="#000" stroke-width="0.65" stroke-linejoin="miter"/>
<use href="#ar" transform="translate(475.7,331.0) rotate(-95.0)" fill="#ff0000" stroke="#000" stroke-width="0.65" stroke-linejoin="miter"/>
<use href="#ar" transform="translate(484.3,333.0) rotate(-95.0)" fill="#ff0000" stroke="#000" stroke-width="0.65" stroke-linejoin="miter"/>
<use href="#ar" transform="translate(492.8,343.0) rotate(-110.0)" fill="#ff0000" stroke="#000" stroke-width="0.65" stroke-linejoin="miter"/>
<use href="#ar" transform="translate(501.3,352.5) rotate(-135.0)" fill="#ff0000" stroke="#000" stroke-width="0.65" stroke-linejoin="miter"/>
<use href="#ar" transform="translate(509.9,361.4) rotate(-135.0)" fill="#ff0000" stroke="#000" stroke-width="0.65" stroke-linejoin="miter"/>
<use href="#ar" transform="translate(518.4,361.4) rotate(-135.0)" fill="#ff0000" stroke="#000" stroke-width="0.65" stroke-linejoin="miter"/>
<use href="#ar" transform="translate(526.9,342.3) rotate(-111.0)" fill="#ff0000" stroke="#000" stroke-width="0.65" stroke-linejoin="miter"/>
<use href="#ar" transform="translate(535.5,323.8) rotate(-112.0)" fill="#ff0000" stroke="#000" stroke-width="0.65" stroke-linejoin="miter"/>
<use href="#ar" transform="translate(544.0,303.0) rotate(-114.0)" fill="#ff0000" stroke="#000" stroke-width="0.65" stroke-linejoin="miter"/>
<use href="#ar" transform="translate(552.6,275.3) rotate(-89.0)" fill="#ffff00" stroke="#000" stroke-width="0.65" stroke-linejoin="miter"/>
<use href="#ar" transform="translate(561.1,256.7) rotate(-90.0)" fill="#ffff00" stroke="#000" stroke-width="0.65" stroke-linejoin="miter"/>
<use href="#ar" transform="translate(569.6,238.6) rotate(-111.0)" fill="#00ff00" stroke="#000" stroke-width="0.65" stroke-linejoin="miter"/>
<use href="#ar" transform="translate(578.2,238.5) rotate(-111.0)" fill="#00ff00" stroke="#000" stroke-width="0.65" stroke-linejoin="miter"/>
<use href="#ar" transform="translate(586.7,237.7) rotate(-111.0)" fill="#00ff00" stroke="#000" stroke-width="0.65" stroke-linejoin="miter"/>
<use href="#ar" transform="translate(595.2,257.3) rotate(-107.0)" fill="#ffff00" stroke="#000" stroke-width="0.65" stroke-linejoin="miter"/>
<use href="#ar" transform="translate(603.8,295.2) rotate(-111.0)" fill="#ffff00" stroke="#000" stroke-width="0.65" stroke-linejoin="miter"/>
<use href="#ar" transform="translate(612.3,323.4) rotate(-135.0)" fill="#ff0000" stroke="#000" stroke-width="0.65" stroke-linejoin="miter"/>
<use href="#ar" transform="translate(620.9,352.4) rotate(155.0)" fill="#ff0000" stroke="#000" stroke-width="0.65" stroke-linejoin="miter"/>
<use href="#ar" transform="translate(629.4,360.5) rotate(90.0)" fill="#ff0000" stroke="#000" stroke-width="0.65" stroke-linejoin="miter"/>
<use href="#ar" transform="translate(637.9,367.5) rotate(100.0)" fill="#ff0000" stroke="#000" stroke-width="0.65" stroke-linejoin="miter"/>
<use href="#ar" transform="translate(646.5,370.0) rotate(115.0)" fill="#ff0000" stroke="#000" stroke-width="0.65" stroke-linejoin="miter"/>
<use href="#ar" transform="translate(655.0,368.0) rotate(135.0)" fill="#ff0000" stroke="#000" stroke-width="0.65" stroke-linejoin="miter"/>
<use href="#ar" transform="translate(663.5,361.0) rotate(160.0)" fill="#ff0000" stroke="#000" stroke-width="0.65" stroke-linejoin="miter"/>
<use href="#ar" transform="translate(672.1,356.0) rotate(185.0)" fill="#ff0000" stroke="#000" stroke-width="0.65" stroke-linejoin="miter"/>
<use href="#ar" transform="translate(680.6,333.4) rotate(-135.0)" fill="#ff0000" stroke="#000" stroke-width="0.65" stroke-linejoin="miter"/>
<use href="#ar" transform="translate(689.2,303.9) rotate(-113.0)" fill="#ff0000" stroke="#000" stroke-width="0.65" stroke-linejoin="miter"/>
<use href="#ar" transform="translate(697.7,286.0) rotate(-88.0)" fill="#ffff00" stroke="#000" stroke-width="0.65" stroke-linejoin="miter"/>
<use href="#ar" transform="translate(706.2,276.0) rotate(-88.0)" fill="#ffff00" stroke="#000" stroke-width="0.65" stroke-linejoin="miter"/>
<use href="#ar" transform="translate(714.8,266.5) rotate(-115.0)" fill="#ffff00" stroke="#000" stroke-width="0.65" stroke-linejoin="miter"/>
<use href="#ar" transform="translate(723.3,304.8) rotate(-110.0)" fill="#ff0000" stroke="#000" stroke-width="0.65" stroke-linejoin="miter"/>
<use href="#ar" transform="translate(731.8,301.7) rotate(-145.0)" fill="#ff0000" stroke="#000" stroke-width="0.65" stroke-linejoin="miter"/>
<use href="#ar" transform="translate(740.4,304.4) rotate(180.0)" fill="#ff0000" stroke="#000" stroke-width="0.65" stroke-linejoin="miter"/>
<use href="#ar" transform="translate(748.9,303.2) rotate(135.0)" fill="#ff0000" stroke="#000" stroke-width="0.65" stroke-linejoin="miter"/>
<use href="#ar" transform="translate(757.5,294.3) rotate(105.0)" fill="#ffff00" stroke="#000" stroke-width="0.65" stroke-linejoin="miter"/>
<use href="#ar" transform="translate(766.0,294.2) rotate(68.0)" fill="#ffff00" stroke="#000" stroke-width="0.65" stroke-linejoin="miter"/>
<use href="#ar" transform="translate(774.5,295.0) rotate(60.0)" fill="#ffff00" stroke="#000" stroke-width="0.65" stroke-linejoin="miter"/>
<use href="#ar" transform="translate(783.1,297.0) rotate(40.0)" fill="#ffff00" stroke="#000" stroke-width="0.65" stroke-linejoin="miter"/>
<use href="#ar" transform="translate(791.6,294.0) rotate(25.0)" fill="#ffff00" stroke="#000" stroke-width="0.65" stroke-linejoin="miter"/>
<use href="#ar" transform="translate(800.1,287.0) rotate(22.0)" fill="#ffff00" stroke="#000" stroke-width="0.65" stroke-linejoin="miter"/>
<use href="#ar" transform="translate(808.7,265.9) rotate(0.0)" fill="#ffff00" stroke="#000" stroke-width="0.65" stroke-linejoin="miter"/>
<use href="#ar" transform="translate(817.2,274.6) rotate(0.0)" fill="#ffff00" stroke="#000" stroke-width="0.65" stroke-linejoin="miter"/>
<use href="#ar" transform="translate(825.8,265.5) rotate(-25.0)" fill="#ffff00" stroke="#000" stroke-width="0.65" stroke-linejoin="miter"/>
<use href="#ar" transform="translate(834.3,274.7) rotate(-25.0)" fill="#ffff00" stroke="#000" stroke-width="0.65" stroke-linejoin="miter"/>
<use href="#ar" transform="translate(842.8,283.1) rotate(-25.0)" fill="#ffff00" stroke="#000" stroke-width="0.65" stroke-linejoin="miter"/>
<use href="#ar" transform="translate(851.4,293.2) rotate(-25.0)" fill="#ffff00" stroke="#000" stroke-width="0.65" stroke-linejoin="miter"/>
<use href="#ar" transform="translate(859.9,302.5) rotate(-25.0)" fill="#ff0000" stroke="#000" stroke-width="0.65" stroke-linejoin="miter"/>
<use href="#ar" transform="translate(868.4,312.0) rotate(-25.0)" fill="#ff0000" stroke="#000" stroke-width="0.65" stroke-linejoin="miter"/>
<use href="#ar" transform="translate(877.0,322.0) rotate(-25.0)" fill="#ff0000" stroke="#000" stroke-width="0.65" stroke-linejoin="miter"/>
<use href="#ar" transform="translate(885.5,330.0) rotate(-25.0)" fill="#ff0000" stroke="#000" stroke-width="0.65" stroke-linejoin="miter"/>
<use href="#ar" transform="translate(894.1,332.8) rotate(0.0)" fill="#ff0000" stroke="#000" stroke-width="0.65" stroke-linejoin="miter"/>
<use href="#ar" transform="translate(902.6,341.2) rotate(0.0)" fill="#ff0000" stroke="#000" stroke-width="0.65" stroke-linejoin="miter"/>
<use href="#ar" transform="translate(911.1,341.2) rotate(0.0)" fill="#ff0000" stroke="#000" stroke-width="0.65" stroke-linejoin="miter"/>
<use href="#ar" transform="translate(919.7,341.2) rotate(0.0)" fill="#ff0000" stroke="#000" stroke-width="0.65" stroke-linejoin="miter"/>
<use href="#ar" transform="translate(928.2,342.0) rotate(-25.0)" fill="#ff0000" stroke="#000" stroke-width="0.65" stroke-linejoin="miter"/>
<use href="#ar" transform="translate(936.7,340.0) rotate(-48.0)" fill="#ff0000" stroke="#000" stroke-width="0.65" stroke-linejoin="miter"/>
<use href="#ar" transform="translate(945.3,331.0) rotate(-66.0)" fill="#ff0000" stroke="#000" stroke-width="0.65" stroke-linejoin="miter"/>
<use href="#ar" transform="translate(953.8,323.2) rotate(-90.0)" fill="#ff0000" stroke="#000" stroke-width="0.65" stroke-linejoin="miter"/>
<use href="#ar" transform="translate(962.4,304.0) rotate(-90.0)" fill="#ff0000" stroke="#000" stroke-width="0.65" stroke-linejoin="miter"/>
<use href="#ar" transform="translate(970.9,295.0) rotate(-90.0)" fill="#ffff00" stroke="#000" stroke-width="0.65" stroke-linejoin="miter"/>
<use href="#ar" transform="translate(979.4,285.0) rotate(-90.0)" fill="#ffff00" stroke="#000" stroke-width="0.65" stroke-linejoin="miter"/>
<use href="#ar" transform="translate(988.0,285.0) rotate(-90.0)" fill="#ffff00" stroke="#000" stroke-width="0.65" stroke-linejoin="miter"/>
<use href="#ar" transform="translate(996.5,295.0) rotate(-113.0)" fill="#ffff00" stroke="#000" stroke-width="0.65" stroke-linejoin="miter"/>
<use href="#ar" transform="translate(1005.0,302.0) rotate(-120.0)" fill="#ff0000" stroke="#000" stroke-width="0.65" stroke-linejoin="miter"/>
<use href="#ar" transform="translate(1013.6,322.0) rotate(-115.0)" fill="#ff0000" stroke="#000" stroke-width="0.65" stroke-linejoin="miter"/>
</svg></body></html>
